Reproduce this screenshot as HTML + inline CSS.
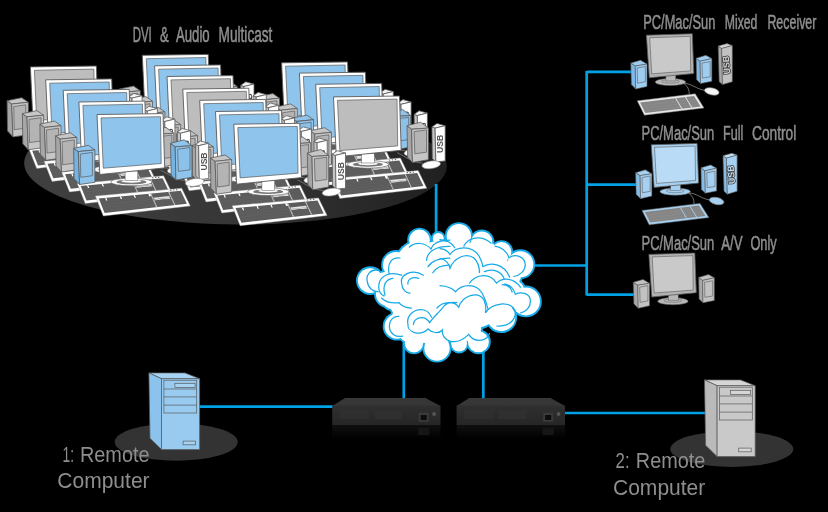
<!DOCTYPE html>
<html><head><meta charset="utf-8"><title>Diagram</title>
<style>html,body{margin:0;padding:0;background:#000;}html,body{width:828px;height:512px;overflow:hidden;}svg{display:block;filter:blur(0.4px);}</style></head>
<body>
<svg width="828" height="512" viewBox="0 0 828 512" font-family="'Liberation Sans', sans-serif">
<defs>
<linearGradient id="rfront" x1="0" y1="0" x2="0" y2="1"><stop offset="0" stop-color="#2f2f2f"/><stop offset="1" stop-color="#262626"/></linearGradient>
<linearGradient id="rrefl" x1="0" y1="0" x2="0" y2="1"><stop offset="0" stop-color="#101010"/><stop offset="1" stop-color="#000"/></linearGradient>
<linearGradient id="bigell" x1="0" y1="0" x2="1" y2="0"><stop offset="0" stop-color="#404040"/><stop offset="0.5" stop-color="#363636"/><stop offset="1" stop-color="#202020"/></linearGradient>
</defs>
<rect width="828" height="512" fill="#000"/>
<ellipse cx="235.5" cy="164.6" rx="211.3" ry="59.9" fill="url(#bigell)" transform="rotate(0.43 235.5 164.6)"/>
<ellipse cx="176.2" cy="442" rx="61.5" ry="18.8" fill="#333"/>
<ellipse cx="731.8" cy="449" rx="61.5" ry="17.9" fill="#333"/>
<path d="M199,406.6 H333 M403.8,338 V399 M483.3,345 V399 M564,413 H705 M436.1,184 V236 M530,265.5 H587 M586.7,71 V295.5 M586.7,71.8 H632 M586.7,184.7 H637 M586.7,294.6 H634" fill="none" stroke="#00a2e5" stroke-width="2.7"/>
<circle cx="370.3" cy="280.6" r="14.3" fill="#18aae7"/>
<circle cx="396.1" cy="265" r="15.0" fill="#18aae7"/>
<circle cx="419.5" cy="240" r="12.3" fill="#18aae7"/>
<circle cx="438.3" cy="238.4" r="7.3" fill="#18aae7"/>
<circle cx="458.9" cy="236.3" r="14.1" fill="#18aae7"/>
<circle cx="481.8" cy="242.1" r="12.5" fill="#18aae7"/>
<circle cx="501.5" cy="251.9" r="11.7" fill="#18aae7"/>
<circle cx="520.4" cy="264.2" r="14.9" fill="#18aae7"/>
<circle cx="525.9" cy="301.4" r="15.9" fill="#18aae7"/>
<circle cx="508.3" cy="285.6" r="12.4" fill="#18aae7"/>
<circle cx="501.3" cy="317.2" r="15.9" fill="#18aae7"/>
<circle cx="478.4" cy="341.8" r="12.4" fill="#18aae7"/>
<circle cx="459.1" cy="343.6" r="9.8" fill="#18aae7"/>
<circle cx="437" cy="348" r="14.6" fill="#18aae7"/>
<circle cx="414" cy="343.3" r="11.0" fill="#18aae7"/>
<circle cx="396.9" cy="326.4" r="14.2" fill="#18aae7"/>
<circle cx="388" cy="294" r="14.0" fill="#18aae7"/>
<circle cx="440" cy="280" r="41.0" fill="#18aae7"/>
<circle cx="470" cy="290" r="41.0" fill="#18aae7"/>
<circle cx="430" cy="310" r="31.0" fill="#18aae7"/>
<circle cx="480" cy="270" r="31.0" fill="#18aae7"/>
<circle cx="420" cy="265" r="26.0" fill="#18aae7"/>
<circle cx="500" cy="290" r="23.0" fill="#18aae7"/>
<circle cx="410" cy="300" r="23.0" fill="#18aae7"/>
<circle cx="455" cy="315" r="29.0" fill="#18aae7"/>
<circle cx="405" cy="318" r="15.0" fill="#18aae7"/>
<circle cx="425" cy="330" r="15.0" fill="#18aae7"/>
<circle cx="468" cy="328" r="15.0" fill="#18aae7"/>
<circle cx="385" cy="282" r="12.0" fill="#18aae7"/>
<circle cx="510" cy="275" r="13.0" fill="#18aae7"/>
<circle cx="515" cy="290" r="11.0" fill="#18aae7"/>
<circle cx="396" cy="281" r="10.0" fill="#18aae7"/>
<circle cx="392" cy="300" r="11.0" fill="#18aae7"/>
<circle cx="407" cy="335" r="8.5" fill="#18aae7"/>
<circle cx="370.3" cy="280.6" r="12.4" fill="#fff"/>
<circle cx="396.1" cy="265" r="13.1" fill="#fff"/>
<circle cx="419.5" cy="240" r="10.4" fill="#fff"/>
<circle cx="438.3" cy="238.4" r="5.4" fill="#fff"/>
<circle cx="458.9" cy="236.3" r="12.2" fill="#fff"/>
<circle cx="481.8" cy="242.1" r="10.6" fill="#fff"/>
<circle cx="501.5" cy="251.9" r="9.8" fill="#fff"/>
<circle cx="520.4" cy="264.2" r="13.0" fill="#fff"/>
<circle cx="525.9" cy="301.4" r="14.0" fill="#fff"/>
<circle cx="508.3" cy="285.6" r="10.5" fill="#fff"/>
<circle cx="501.3" cy="317.2" r="14.0" fill="#fff"/>
<circle cx="478.4" cy="341.8" r="10.5" fill="#fff"/>
<circle cx="459.1" cy="343.6" r="7.9" fill="#fff"/>
<circle cx="437" cy="348" r="12.7" fill="#fff"/>
<circle cx="414" cy="343.3" r="9.1" fill="#fff"/>
<circle cx="396.9" cy="326.4" r="12.3" fill="#fff"/>
<circle cx="388" cy="294" r="12.1" fill="#fff"/>
<circle cx="440" cy="280" r="39.1" fill="#fff"/>
<circle cx="470" cy="290" r="39.1" fill="#fff"/>
<circle cx="430" cy="310" r="29.1" fill="#fff"/>
<circle cx="480" cy="270" r="29.1" fill="#fff"/>
<circle cx="420" cy="265" r="24.1" fill="#fff"/>
<circle cx="500" cy="290" r="21.1" fill="#fff"/>
<circle cx="410" cy="300" r="21.1" fill="#fff"/>
<circle cx="455" cy="315" r="27.1" fill="#fff"/>
<circle cx="405" cy="318" r="13.1" fill="#fff"/>
<circle cx="425" cy="330" r="13.1" fill="#fff"/>
<circle cx="468" cy="328" r="13.1" fill="#fff"/>
<circle cx="385" cy="282" r="10.1" fill="#fff"/>
<circle cx="510" cy="275" r="11.1" fill="#fff"/>
<circle cx="515" cy="290" r="9.1" fill="#fff"/>
<circle cx="396" cy="281" r="8.1" fill="#fff"/>
<circle cx="392" cy="300" r="9.1" fill="#fff"/>
<circle cx="407" cy="335" r="6.6" fill="#fff"/>
<path d="M378.9,270.5 C370,268 366,276 367.2,281 C368,288 373,292 378.1,291.6 M400,258 C392,257 387,263 389,273 M401.6,275.2 C390,271 380,276 379,284 C378,290 380,294 384,296 M393,278.3 C386,279 382,285 385,295 M423.4,275.2 C412,268 400,275 401.6,283 C402,290 406,293 410,293 M418.8,278.3 C412,276 407,280 408,284 M409.4,247 C415,242 425,242 431,249 C433,243 440,240 450,240 M426.6,260.3 C427,251 437,246 450,246.3 M428,266.6 C432,260 440,258 450,258 M432.8,272.8 C436,267 443,265 450,265 M440,239.6 C446,240 452,243 454.8,247.8 M463.8,246.2 C468,238 480,234 491,243 M440,248.6 C445,249 448,251 450,254.5 C456,246 472,245 479,256 C481,260 482.5,263 482.7,266 M440,258.5 C445,259 449,263 450,268.3 C454,258 466,252 474,258 C478,262 479.5,267 479.4,272.4 M482.7,266.7 C490,262 504,263 509.7,277.3 M484.3,271.6 C492,268 501,271 504,278.2 M495,246.2 C501,247 507,251 508.9,257.7 C516,253 525,257 525.3,265 C525,271 520,275.5 513.8,276.5 M469.5,283.1 C476,274 490,272 496.6,283.1 C503,277 514,278 520.4,287.2 M502.3,284.7 C507,285 511,288 512.2,292 M440,285.6 C446,286 452,288 455.6,291.7 C462,284 476,283 482,293 C485,298 487,304 488.1,309.3 M437,308 C443,301 455,301 458.7,307.2 C462,296 478,290 484,300 C486,305 486,310 485.5,312.8 C492,303 510,300 515.3,311 C516,318 511,327 497,326 M515.3,294.3 C522,291 530,294 530.3,300 C531,307 526,312 520.6,312.8 M504.8,283.8 C510,285 514,289 515.3,294.3 M398.9,316.3 C391,316 388,324 390,330 C392,335 397,337 402.5,336.2 M408,324.4 C406,316 414,308 424,310 C428,311 430,314 431.5,317.2 M413.4,324.4 C414,318 424,314 429.7,322.6 C434,316 440,312 444,306 C447,303 452,302 457,302.7 M408,324.4 C407,332 420,337 428,329 C432,333 439,334 442.4,330 C441,340 455,348 468.7,334.4 C473,342 486,343 489.5,333.5 M381.7,298.2 C388,304 396,303 399,302.7 C402,307 408,308 411.6,308.1" fill="none" stroke="#18aae7" stroke-width="1.25" stroke-linecap="round"/>
<polygon points="344.6,398.3 426,398.3 440.5,405.9 332.2,405.9" fill="#363636"/>
<line x1="344.6" y1="398.7" x2="426" y2="398.7" stroke="#444" stroke-width="0.8"/>
<rect x="332.2" y="405.6" width="108.30000000000001" height="19.4" fill="url(#rfront)"/>
<rect x="339.2" y="409" width="30" height="10" fill="#313131" opacity="0.7"/>
<rect x="374.2" y="410.5" width="28" height="8.5" fill="#323232" opacity="0.7"/>
<rect x="332.2" y="425" width="108.30000000000001" height="14" fill="url(#rrefl)"/>
<rect x="418.7" y="412.8" width="10" height="9" fill="#3a3a3a"/>
<rect x="420.7" y="415" width="6" height="5" fill="#0c0c0c"/>
<rect x="418.2" y="428" width="11" height="7" fill="#161616"/>
<circle cx="434.1" cy="414" r="1.9" fill="#555"/>
<polygon points="468.8,398.3 551,398.3 565,405.9 456.6,405.9" fill="#363636"/>
<line x1="468.8" y1="398.7" x2="551" y2="398.7" stroke="#444" stroke-width="0.8"/>
<rect x="456.6" y="405.6" width="108.39999999999998" height="19.4" fill="url(#rfront)"/>
<rect x="463.6" y="409" width="30" height="10" fill="#313131" opacity="0.7"/>
<rect x="498.6" y="410.5" width="28" height="8.5" fill="#323232" opacity="0.7"/>
<rect x="456.6" y="425" width="108.39999999999998" height="14" fill="url(#rrefl)"/>
<rect x="543.2" y="412.8" width="10" height="9" fill="#3a3a3a"/>
<rect x="545.2" y="415" width="6" height="5" fill="#0c0c0c"/>
<rect x="542.7" y="428" width="11" height="7" fill="#161616"/>
<circle cx="558.6" cy="414" r="1.9" fill="#555"/>
<polygon points="148.9,372.9 185.0,372.9 199.6,378.7 161.5,378.7" fill="#a6d3f3" stroke="#5a5a5a" stroke-width="0.7" stroke-linejoin="round" />
<polygon points="148.9,372.9 161.5,378.7 161.5,449.6 150.0,438.3" fill="#8cc3ec" stroke="#5a5a5a" stroke-width="0.7" stroke-linejoin="round" />
<polygon points="161.5,378.7 199.6,378.7 199.6,449.6 161.5,449.6" fill="#99cbf0" stroke="#5a5a5a" stroke-width="0.7" stroke-linejoin="round" />
<rect x="163.9" y="380.2" width="32.8" height="32.8" fill="none" stroke="#5a5a5a" stroke-width="0.7"/>
<line x1="163.9" y1="389.0" x2="196.7" y2="389.0" stroke="#5a5a5a" stroke-width="0.7"/>
<line x1="163.9" y1="396.9" x2="196.7" y2="396.9" stroke="#5a5a5a" stroke-width="0.7"/>
<line x1="163.9" y1="405.1" x2="196.7" y2="405.1" stroke="#5a5a5a" stroke-width="0.7"/>
<rect x="174.9" y="383.3" width="20.2" height="4.1" fill="#a6d3f3" stroke="#5a5a5a" stroke-width="0.7"/>
<rect x="183.1" y="441.1" width="12.5" height="3.7" fill="#a6d3f3" stroke="#5a5a5a" stroke-width="0.7"/>
<polygon points="704.5,379.9 740.6,379.9 755.2,385.7 717.1,385.7" fill="#d6d6d6" stroke="#5a5a5a" stroke-width="0.7" stroke-linejoin="round" />
<polygon points="704.5,379.9 717.1,385.7 717.1,456.6 705.6,445.3" fill="#bababa" stroke="#5a5a5a" stroke-width="0.7" stroke-linejoin="round" />
<polygon points="717.1,385.7 755.2,385.7 755.2,456.6 717.1,456.6" fill="#c9c9c9" stroke="#5a5a5a" stroke-width="0.7" stroke-linejoin="round" />
<rect x="719.5" y="387.2" width="32.8" height="32.8" fill="none" stroke="#5a5a5a" stroke-width="0.7"/>
<line x1="719.5" y1="396.0" x2="752.3" y2="396.0" stroke="#5a5a5a" stroke-width="0.7"/>
<line x1="719.5" y1="403.9" x2="752.3" y2="403.9" stroke="#5a5a5a" stroke-width="0.7"/>
<line x1="719.5" y1="412.1" x2="752.3" y2="412.1" stroke="#5a5a5a" stroke-width="0.7"/>
<rect x="730.5" y="390.3" width="20.2" height="4.1" fill="#d6d6d6" stroke="#5a5a5a" stroke-width="0.7"/>
<rect x="738.7" y="448.1" width="12.5" height="3.7" fill="#d6d6d6" stroke="#5a5a5a" stroke-width="0.7"/>
<text x="132.7" y="42.1" font-size="21.5" textLength="19.1" lengthAdjust="spacingAndGlyphs" text-anchor="start" fill="#8f8f8f" stroke="#8f8f8f" stroke-width="0.55" >DVI</text>
<text x="160" y="42.1" font-size="21.5" textLength="8.7" lengthAdjust="spacingAndGlyphs" text-anchor="start" fill="#8f8f8f" stroke="#8f8f8f" stroke-width="0.55" >&amp;</text>
<text x="175.9" y="42.1" font-size="21.5" textLength="33.8" lengthAdjust="spacingAndGlyphs" text-anchor="start" fill="#8f8f8f" stroke="#8f8f8f" stroke-width="0.55" >Audio</text>
<text x="218.6" y="42.1" font-size="21.5" textLength="53.8" lengthAdjust="spacingAndGlyphs" text-anchor="start" fill="#8f8f8f" stroke="#8f8f8f" stroke-width="0.55" >Multicast</text>
<text x="643.2" y="28.8" font-size="20.5" textLength="72.2" lengthAdjust="spacingAndGlyphs" text-anchor="start" fill="#8f8f8f" stroke="#8f8f8f" stroke-width="0.55" >PC/Mac/Sun</text>
<text x="724.7" y="28.8" font-size="20.5" textLength="32.7" lengthAdjust="spacingAndGlyphs" text-anchor="start" fill="#8f8f8f" stroke="#8f8f8f" stroke-width="0.55" >Mixed</text>
<text x="767.4" y="28.8" font-size="20.5" textLength="49.0" lengthAdjust="spacingAndGlyphs" text-anchor="start" fill="#8f8f8f" stroke="#8f8f8f" stroke-width="0.55" >Receiver</text>
<text x="641.5" y="139.5" font-size="20.5" textLength="72.8" lengthAdjust="spacingAndGlyphs" text-anchor="start" fill="#8f8f8f" stroke="#8f8f8f" stroke-width="0.55" >PC/Mac/Sun</text>
<text x="723.1" y="139.5" font-size="20.5" textLength="20.3" lengthAdjust="spacingAndGlyphs" text-anchor="start" fill="#8f8f8f" stroke="#8f8f8f" stroke-width="0.55" >Full</text>
<text x="752" y="139.5" font-size="20.5" textLength="44.3" lengthAdjust="spacingAndGlyphs" text-anchor="start" fill="#8f8f8f" stroke="#8f8f8f" stroke-width="0.55" >Control</text>
<text x="641.5" y="249.5" font-size="20.5" textLength="72.8" lengthAdjust="spacingAndGlyphs" text-anchor="start" fill="#8f8f8f" stroke="#8f8f8f" stroke-width="0.55" >PC/Mac/Sun</text>
<text x="721.2" y="249.5" font-size="20.5" textLength="21.5" lengthAdjust="spacingAndGlyphs" text-anchor="start" fill="#8f8f8f" stroke="#8f8f8f" stroke-width="0.55" >A/V</text>
<text x="750.4" y="249.5" font-size="20.5" textLength="26.3" lengthAdjust="spacingAndGlyphs" text-anchor="start" fill="#8f8f8f" stroke="#8f8f8f" stroke-width="0.55" >Only</text>
<text x="62.6" y="461.9" font-size="22" textLength="11.5" lengthAdjust="spacingAndGlyphs" text-anchor="start" fill="#8e8e8e" stroke="#8e8e8e" stroke-width="0" >1:</text>
<text x="79.9" y="461.9" font-size="22" textLength="69.7" lengthAdjust="spacingAndGlyphs" text-anchor="start" fill="#8e8e8e" stroke="#8e8e8e" stroke-width="0" >Remote</text>
<text x="57.3" y="488.1" font-size="22" textLength="92.3" lengthAdjust="spacingAndGlyphs" text-anchor="start" fill="#8e8e8e" stroke="#8e8e8e" stroke-width="0" >Computer</text>
<text x="615.6" y="467.6" font-size="22" textLength="14" lengthAdjust="spacingAndGlyphs" text-anchor="start" fill="#8e8e8e" stroke="#8e8e8e" stroke-width="0" >2:</text>
<text x="635.8" y="467.6" font-size="22" textLength="69.5" lengthAdjust="spacingAndGlyphs" text-anchor="start" fill="#8e8e8e" stroke="#8e8e8e" stroke-width="0" >Remote</text>
<text x="613" y="494.8" font-size="22" textLength="92.3" lengthAdjust="spacingAndGlyphs" text-anchor="start" fill="#8e8e8e" stroke="#8e8e8e" stroke-width="0" >Computer</text>
<g><polygon points="140.6,136.8 227.0,129.0 235.6,146.7 148.6,156.9" fill="#ffffff" stroke="#999" stroke-width="0.4" stroke-linejoin="round" />
<polygon points="144.1,139.2 226.0,131.5 232.2,144.5 149.9,153.8" fill="#5c5c5c"/>
<polygon points="150.3,138.6 151.6,138.5 152.7,141.3 151.4,141.4" fill="#fff"/>
<polygon points="165.0,137.2 166.3,137.1 167.4,139.8 166.1,139.9" fill="#fff"/>
<polygon points="178.8,135.9 180.1,135.8 181.3,138.5 180.0,138.6" fill="#fff"/>
<polygon points="193.5,134.5 196.1,134.3 197.3,136.9 194.7,137.2" fill="#fff"/>
<polygon points="198.9,138.5 214.5,136.9 215.7,139.5 200.1,141.1" fill="#e8e8e8"/>
<polygon points="205.3,140.6 210.5,140.0 211.5,142.2 206.3,142.8" fill="#5c5c5c"/>
<polygon points="195.3,134.4 196.6,134.3 202.7,147.8 201.4,148.0" fill="#bbb"/>
<polygon points="213.4,132.7 214.5,132.6 220.7,145.8 219.6,145.9" fill="#ccc"/>
<polygon points="145.6,142.6 227.0,134.6 227.1,134.8 145.7,142.9" fill="#676767"/>
<polygon points="146.7,145.4 228.2,137.1 228.3,137.3 146.8,145.7" fill="#676767"/>
<polygon points="147.8,148.2 229.4,139.5 229.5,139.8 148.0,148.5" fill="#676767"/>
<polygon points="149.0,151.0 230.6,142.0 230.7,142.3 149.1,151.3" fill="#676767"/>
<polygon points="215.2,130.6 216.5,130.5 217.0,131.6 215.7,131.7" fill="#666"/>
<polygon points="218.2,130.4 219.5,130.2 220.0,131.3 218.7,131.4" fill="#666"/>
<polygon points="221.2,130.1 222.5,130.0 223.0,131.0 221.7,131.2" fill="#666"/>
<ellipse cx="176.7" cy="122.8" rx="20.6" ry="3.8" fill="#fff" stroke="#5a5a5a" stroke-width="0.6"/>
<ellipse cx="176.7" cy="122.8" rx="15" ry="2.3" fill="#777"/>
<ellipse cx="176.7" cy="122.1" rx="10" ry="1.5" fill="#fff"/>
<rect x="170.4" y="111.8" width="12.7" height="9.6" fill="#fff" stroke="#5a5a5a" stroke-width="0.5"/>
<path d="M231.8,121.6 C220.3,120.8 214.3,114.8 206.0,111.1" fill="none" stroke="#888" stroke-width="0.7"/>
<polygon points="119.0,89.1 123.6,92.4 124.9,125.3 119.4,119.3" fill="#a6a6a6" stroke="#5a5a5a" stroke-width="0.8" stroke-linejoin="round" />
<polygon points="119.0,89.1 133.6,86.1 140.2,90.7 123.6,92.4" fill="#c6c6c6" stroke="#5a5a5a" stroke-width="0.8" stroke-linejoin="round" />
<polygon points="123.6,92.4 140.2,90.7 140.2,123.1 124.9,125.3" fill="#c6c6c6" stroke="#5a5a5a" stroke-width="0.8" stroke-linejoin="round" />
<polygon points="125.6,94.9 137.7,93.2 137.7,116.5 126.1,118.1" fill="#b4b4b4" stroke="#5a5a5a" stroke-width="0.7" stroke-linejoin="round" />
<polygon points="142.3,55.3 208.3,54.4 210.0,108.7 145.1,115.3" fill="#ffffff" stroke="#5a5a5a" stroke-width="0.9" stroke-linejoin="round" />
<polygon points="146.3,58.7 205.8,57.5 206.5,104.3 148.6,109.0" fill="#8fc5ec" stroke="#5a5a5a" stroke-width="0.7" stroke-linejoin="round" />
<polygon points="215.8,84.1 220.5,87.6 221.2,120.9 216.5,115.7" fill="#a6a6a6" stroke="#5a5a5a" stroke-width="0.8" stroke-linejoin="round" />
<polygon points="215.8,84.1 229.4,80.6 237.2,86.5 220.5,87.6" fill="#c6c6c6" stroke="#5a5a5a" stroke-width="0.8" stroke-linejoin="round" />
<polygon points="220.5,87.6 237.2,86.5 237.2,118.1 221.2,120.9" fill="#c6c6c6" stroke="#5a5a5a" stroke-width="0.8" stroke-linejoin="round" />
<polygon points="222.9,90.0 235.3,88.3 235.3,110.6 223.6,112.2" fill="#b4b4b4" stroke="#5a5a5a" stroke-width="0.7" stroke-linejoin="round" />
<polygon points="240.7,85.3 243.9,86.5 244.6,120.4 241.1,116.9" fill="#c4c4c4" stroke="#5a5a5a" stroke-width="0.8" stroke-linejoin="round" />
<polygon points="240.7,85.3 245.8,81.8 254.0,84.1 243.9,86.5" fill="#f4f4f4" stroke="#5a5a5a" stroke-width="0.8" stroke-linejoin="round" />
<polygon points="243.9,86.5 254.0,84.1 254.0,119.3 244.6,120.4" fill="#fff" stroke="#5a5a5a" stroke-width="0.8" stroke-linejoin="round" />
<text transform="translate(249.2,102.3) rotate(-90)" text-anchor="middle" font-size="8.6" font-weight="bold" fill="#555" dy="3">USB</text>
<ellipse cx="240.0" cy="123.2" rx="9.4" ry="3.8" fill="#fff" stroke="#888" stroke-width="0.6" transform="rotate(-8 240.0 123.2)"/></g>
<g><polygon points="279.9,144.3 366.3,136.5 374.9,154.2 287.9,164.4" fill="#ffffff" stroke="#999" stroke-width="0.4" stroke-linejoin="round" />
<polygon points="283.4,146.7 365.3,139.0 371.5,152.0 289.2,161.3" fill="#5c5c5c"/>
<polygon points="289.6,146.1 290.9,146.0 292.0,148.8 290.7,148.9" fill="#fff"/>
<polygon points="304.3,144.7 305.6,144.6 306.7,147.3 305.4,147.4" fill="#fff"/>
<polygon points="318.1,143.4 319.4,143.3 320.6,146.0 319.3,146.1" fill="#fff"/>
<polygon points="332.8,142.0 335.4,141.8 336.6,144.4 334.0,144.7" fill="#fff"/>
<polygon points="338.2,146.0 353.8,144.4 355.0,147.0 339.4,148.6" fill="#e8e8e8"/>
<polygon points="344.6,148.1 349.8,147.5 350.8,149.7 345.6,150.3" fill="#5c5c5c"/>
<polygon points="334.6,141.9 335.9,141.8 342.0,155.3 340.7,155.5" fill="#bbb"/>
<polygon points="352.7,140.2 353.8,140.1 360.0,153.3 358.9,153.4" fill="#ccc"/>
<polygon points="284.9,150.1 366.3,142.1 366.4,142.3 285.0,150.4" fill="#676767"/>
<polygon points="286.0,152.9 367.5,144.6 367.6,144.8 286.1,153.2" fill="#676767"/>
<polygon points="287.1,155.7 368.7,147.0 368.8,147.3 287.3,156.0" fill="#676767"/>
<polygon points="288.3,158.5 369.9,149.5 370.0,149.8 288.4,158.8" fill="#676767"/>
<polygon points="354.5,138.1 355.8,138.0 356.3,139.1 355.0,139.2" fill="#666"/>
<polygon points="357.5,137.9 358.8,137.7 359.3,138.8 358.0,138.9" fill="#666"/>
<polygon points="360.5,137.6 361.8,137.5 362.3,138.5 361.0,138.7" fill="#666"/>
<ellipse cx="316.0" cy="130.3" rx="20.6" ry="3.8" fill="#fff" stroke="#5a5a5a" stroke-width="0.6"/>
<ellipse cx="316.0" cy="130.3" rx="15" ry="2.3" fill="#777"/>
<ellipse cx="316.0" cy="129.6" rx="10" ry="1.5" fill="#fff"/>
<rect x="309.7" y="119.3" width="12.7" height="9.6" fill="#fff" stroke="#5a5a5a" stroke-width="0.5"/>
<path d="M371.1,129.1 C359.6,128.3 353.6,122.3 345.3,118.6" fill="none" stroke="#888" stroke-width="0.7"/>
<polygon points="258.3,96.6 262.9,99.9 264.2,132.8 258.7,126.8" fill="#a6a6a6" stroke="#5a5a5a" stroke-width="0.8" stroke-linejoin="round" />
<polygon points="258.3,96.6 272.9,93.6 279.5,98.2 262.9,99.9" fill="#c6c6c6" stroke="#5a5a5a" stroke-width="0.8" stroke-linejoin="round" />
<polygon points="262.9,99.9 279.5,98.2 279.5,130.6 264.2,132.8" fill="#c6c6c6" stroke="#5a5a5a" stroke-width="0.8" stroke-linejoin="round" />
<polygon points="264.9,102.4 277.0,100.7 277.0,124.0 265.4,125.6" fill="#b4b4b4" stroke="#5a5a5a" stroke-width="0.7" stroke-linejoin="round" />
<polygon points="281.6,62.8 347.6,61.9 349.3,116.2 284.4,122.8" fill="#ffffff" stroke="#5a5a5a" stroke-width="0.9" stroke-linejoin="round" />
<polygon points="285.6,66.2 345.1,65.0 345.8,111.8 287.9,116.5" fill="#8fc5ec" stroke="#5a5a5a" stroke-width="0.7" stroke-linejoin="round" />
<polygon points="355.1,91.6 359.8,95.1 360.5,128.4 355.8,123.2" fill="#a6a6a6" stroke="#5a5a5a" stroke-width="0.8" stroke-linejoin="round" />
<polygon points="355.1,91.6 368.7,88.1 376.5,94.0 359.8,95.1" fill="#c6c6c6" stroke="#5a5a5a" stroke-width="0.8" stroke-linejoin="round" />
<polygon points="359.8,95.1 376.5,94.0 376.5,125.6 360.5,128.4" fill="#c6c6c6" stroke="#5a5a5a" stroke-width="0.8" stroke-linejoin="round" />
<polygon points="362.2,97.5 374.6,95.8 374.6,118.1 362.9,119.7" fill="#b4b4b4" stroke="#5a5a5a" stroke-width="0.7" stroke-linejoin="round" />
<polygon points="380.0,92.8 383.2,94.0 383.9,127.9 380.4,124.4" fill="#c4c4c4" stroke="#5a5a5a" stroke-width="0.8" stroke-linejoin="round" />
<polygon points="380.0,92.8 385.1,89.3 393.3,91.6 383.2,94.0" fill="#f4f4f4" stroke="#5a5a5a" stroke-width="0.8" stroke-linejoin="round" />
<polygon points="383.2,94.0 393.3,91.6 393.3,126.8 383.9,127.9" fill="#fff" stroke="#5a5a5a" stroke-width="0.8" stroke-linejoin="round" />
<text transform="translate(388.5,109.8) rotate(-90)" text-anchor="middle" font-size="8.6" font-weight="bold" fill="#555" dy="3">USB</text>
<ellipse cx="379.3" cy="130.7" rx="9.4" ry="3.8" fill="#fff" stroke="#888" stroke-width="0.6" transform="rotate(-8 379.3 130.7)"/></g>
<g><polygon points="152.9,147.3 239.3,139.5 247.9,157.2 160.9,167.4" fill="#ffffff" stroke="#999" stroke-width="0.4" stroke-linejoin="round" />
<polygon points="156.4,149.7 238.3,142.0 244.5,155.0 162.2,164.3" fill="#5c5c5c"/>
<polygon points="162.6,149.1 163.9,149.0 165.0,151.8 163.7,151.9" fill="#fff"/>
<polygon points="177.3,147.7 178.6,147.6 179.7,150.3 178.4,150.4" fill="#fff"/>
<polygon points="191.1,146.4 192.4,146.3 193.6,149.0 192.3,149.1" fill="#fff"/>
<polygon points="205.8,145.0 208.4,144.8 209.6,147.4 207.0,147.7" fill="#fff"/>
<polygon points="211.2,149.0 226.8,147.4 228.0,150.0 212.4,151.6" fill="#e8e8e8"/>
<polygon points="217.6,151.1 222.8,150.5 223.8,152.7 218.6,153.3" fill="#5c5c5c"/>
<polygon points="207.6,144.9 208.9,144.8 215.0,158.3 213.7,158.5" fill="#bbb"/>
<polygon points="225.7,143.2 226.8,143.1 233.0,156.3 231.9,156.4" fill="#ccc"/>
<polygon points="157.9,153.1 239.3,145.1 239.4,145.3 158.0,153.4" fill="#676767"/>
<polygon points="159.0,155.9 240.5,147.6 240.6,147.8 159.1,156.2" fill="#676767"/>
<polygon points="160.1,158.7 241.7,150.0 241.8,150.3 160.3,159.0" fill="#676767"/>
<polygon points="161.3,161.5 242.9,152.5 243.0,152.8 161.4,161.8" fill="#676767"/>
<polygon points="227.5,141.1 228.8,141.0 229.3,142.1 228.0,142.2" fill="#666"/>
<polygon points="230.5,140.9 231.8,140.7 232.3,141.8 231.0,141.9" fill="#666"/>
<polygon points="233.5,140.6 234.8,140.5 235.3,141.5 234.0,141.7" fill="#666"/>
<ellipse cx="189.0" cy="133.3" rx="20.6" ry="3.8" fill="#fff" stroke="#5a5a5a" stroke-width="0.6"/>
<ellipse cx="189.0" cy="133.3" rx="15" ry="2.3" fill="#777"/>
<ellipse cx="189.0" cy="132.6" rx="10" ry="1.5" fill="#fff"/>
<rect x="182.7" y="122.3" width="12.7" height="9.6" fill="#fff" stroke="#5a5a5a" stroke-width="0.5"/>
<path d="M244.1,132.1 C232.6,131.3 226.6,125.3 218.3,121.6" fill="none" stroke="#888" stroke-width="0.7"/>
<polygon points="131.3,99.6 135.9,102.9 137.2,135.8 131.7,129.8" fill="#a6a6a6" stroke="#5a5a5a" stroke-width="0.8" stroke-linejoin="round" />
<polygon points="131.3,99.6 145.9,96.6 152.5,101.2 135.9,102.9" fill="#c6c6c6" stroke="#5a5a5a" stroke-width="0.8" stroke-linejoin="round" />
<polygon points="135.9,102.9 152.5,101.2 152.5,133.6 137.2,135.8" fill="#c6c6c6" stroke="#5a5a5a" stroke-width="0.8" stroke-linejoin="round" />
<polygon points="137.9,105.4 150.0,103.7 150.0,127.0 138.4,128.6" fill="#b4b4b4" stroke="#5a5a5a" stroke-width="0.7" stroke-linejoin="round" />
<polygon points="154.6,65.8 220.6,64.9 222.3,119.2 157.4,125.8" fill="#ffffff" stroke="#5a5a5a" stroke-width="0.9" stroke-linejoin="round" />
<polygon points="158.6,69.2 218.1,68.0 218.8,114.8 160.9,119.5" fill="#8fc5ec" stroke="#5a5a5a" stroke-width="0.7" stroke-linejoin="round" />
<polygon points="228.1,94.6 232.8,98.1 233.5,131.4 228.8,126.2" fill="#a6a6a6" stroke="#5a5a5a" stroke-width="0.8" stroke-linejoin="round" />
<polygon points="228.1,94.6 241.7,91.1 249.5,97.0 232.8,98.1" fill="#c6c6c6" stroke="#5a5a5a" stroke-width="0.8" stroke-linejoin="round" />
<polygon points="232.8,98.1 249.5,97.0 249.5,128.6 233.5,131.4" fill="#c6c6c6" stroke="#5a5a5a" stroke-width="0.8" stroke-linejoin="round" />
<polygon points="235.2,100.5 247.6,98.8 247.6,121.1 235.9,122.7" fill="#b4b4b4" stroke="#5a5a5a" stroke-width="0.7" stroke-linejoin="round" />
<polygon points="253.0,95.8 256.2,97.0 256.9,130.9 253.4,127.4" fill="#c4c4c4" stroke="#5a5a5a" stroke-width="0.8" stroke-linejoin="round" />
<polygon points="253.0,95.8 258.1,92.3 266.3,94.6 256.2,97.0" fill="#f4f4f4" stroke="#5a5a5a" stroke-width="0.8" stroke-linejoin="round" />
<polygon points="256.2,97.0 266.3,94.6 266.3,129.8 256.9,130.9" fill="#fff" stroke="#5a5a5a" stroke-width="0.8" stroke-linejoin="round" />
<text transform="translate(261.5,112.8) rotate(-90)" text-anchor="middle" font-size="8.6" font-weight="bold" fill="#555" dy="3">USB</text>
<ellipse cx="252.3" cy="133.7" rx="9.4" ry="3.8" fill="#fff" stroke="#888" stroke-width="0.6" transform="rotate(-8 252.3 133.7)"/></g>
<g><polygon points="28.7,148.4 115.1,140.6 123.7,158.3 36.7,168.5" fill="#ffffff" stroke="#999" stroke-width="0.4" stroke-linejoin="round" />
<polygon points="32.2,150.8 114.1,143.1 120.3,156.1 38.0,165.4" fill="#5c5c5c"/>
<polygon points="38.4,150.2 39.7,150.1 40.8,152.9 39.5,153.0" fill="#fff"/>
<polygon points="53.1,148.8 54.4,148.7 55.5,151.4 54.2,151.5" fill="#fff"/>
<polygon points="66.9,147.5 68.2,147.4 69.4,150.1 68.1,150.2" fill="#fff"/>
<polygon points="81.6,146.1 84.2,145.9 85.4,148.5 82.8,148.8" fill="#fff"/>
<polygon points="87.0,150.1 102.6,148.5 103.8,151.1 88.2,152.7" fill="#e8e8e8"/>
<polygon points="93.4,152.2 98.6,151.6 99.6,153.8 94.4,154.4" fill="#5c5c5c"/>
<polygon points="83.4,146.0 84.7,145.9 90.8,159.4 89.5,159.6" fill="#bbb"/>
<polygon points="101.5,144.3 102.6,144.2 108.8,157.4 107.7,157.5" fill="#ccc"/>
<polygon points="33.7,154.2 115.1,146.2 115.2,146.4 33.8,154.5" fill="#676767"/>
<polygon points="34.8,157.0 116.3,148.7 116.4,148.9 34.9,157.3" fill="#676767"/>
<polygon points="35.9,159.8 117.5,151.1 117.6,151.4 36.1,160.1" fill="#676767"/>
<polygon points="37.1,162.6 118.7,153.6 118.8,153.9 37.2,162.9" fill="#676767"/>
<polygon points="103.3,142.2 104.6,142.1 105.1,143.2 103.8,143.3" fill="#666"/>
<polygon points="106.3,142.0 107.6,141.8 108.1,142.9 106.8,143.0" fill="#666"/>
<polygon points="109.3,141.7 110.6,141.6 111.1,142.6 109.8,142.8" fill="#666"/>
<ellipse cx="64.8" cy="134.4" rx="20.6" ry="3.8" fill="#fff" stroke="#5a5a5a" stroke-width="0.6"/>
<ellipse cx="64.8" cy="134.4" rx="15" ry="2.3" fill="#777"/>
<ellipse cx="64.8" cy="133.7" rx="10" ry="1.5" fill="#fff"/>
<rect x="58.5" y="123.4" width="12.7" height="9.6" fill="#fff" stroke="#5a5a5a" stroke-width="0.5"/>
<path d="M119.9,133.2 C108.4,132.4 102.4,126.4 94.1,122.7" fill="none" stroke="#888" stroke-width="0.7"/>
<polygon points="7.1,100.7 11.7,104.0 13.0,136.9 7.5,130.9" fill="#a6a6a6" stroke="#5a5a5a" stroke-width="0.8" stroke-linejoin="round" />
<polygon points="7.1,100.7 21.7,97.7 28.3,102.3 11.7,104.0" fill="#c6c6c6" stroke="#5a5a5a" stroke-width="0.8" stroke-linejoin="round" />
<polygon points="11.7,104.0 28.3,102.3 28.3,134.7 13.0,136.9" fill="#c6c6c6" stroke="#5a5a5a" stroke-width="0.8" stroke-linejoin="round" />
<polygon points="13.7,106.5 25.8,104.8 25.8,128.1 14.2,129.7" fill="#b4b4b4" stroke="#5a5a5a" stroke-width="0.7" stroke-linejoin="round" />
<polygon points="30.4,66.9 96.4,66.0 98.1,120.3 33.2,126.9" fill="#ffffff" stroke="#5a5a5a" stroke-width="0.9" stroke-linejoin="round" />
<polygon points="34.4,70.3 93.9,69.1 94.6,115.9 36.7,120.6" fill="#bdbdbd" stroke="#5a5a5a" stroke-width="0.7" stroke-linejoin="round" />
<polygon points="103.9,95.7 108.6,99.2 109.3,132.5 104.6,127.3" fill="#a6a6a6" stroke="#5a5a5a" stroke-width="0.8" stroke-linejoin="round" />
<polygon points="103.9,95.7 117.5,92.2 125.3,98.1 108.6,99.2" fill="#c6c6c6" stroke="#5a5a5a" stroke-width="0.8" stroke-linejoin="round" />
<polygon points="108.6,99.2 125.3,98.1 125.3,129.7 109.3,132.5" fill="#c6c6c6" stroke="#5a5a5a" stroke-width="0.8" stroke-linejoin="round" />
<polygon points="111.0,101.6 123.4,99.9 123.4,122.2 111.7,123.8" fill="#b4b4b4" stroke="#5a5a5a" stroke-width="0.7" stroke-linejoin="round" />
<polygon points="128.8,96.9 132.0,98.1 132.7,132.0 129.2,128.5" fill="#c4c4c4" stroke="#5a5a5a" stroke-width="0.8" stroke-linejoin="round" />
<polygon points="128.8,96.9 133.9,93.4 142.1,95.7 132.0,98.1" fill="#f4f4f4" stroke="#5a5a5a" stroke-width="0.8" stroke-linejoin="round" />
<polygon points="132.0,98.1 142.1,95.7 142.1,130.9 132.7,132.0" fill="#fff" stroke="#5a5a5a" stroke-width="0.8" stroke-linejoin="round" />
<text transform="translate(137.3,113.9) rotate(-90)" text-anchor="middle" font-size="8.6" font-weight="bold" fill="#555" dy="3">USB</text>
<ellipse cx="128.1" cy="134.8" rx="9.4" ry="3.8" fill="#fff" stroke="#888" stroke-width="0.6" transform="rotate(-8 128.1 134.8)"/></g>
<g><polygon points="297.7,154.6 384.1,146.8 392.7,164.5 305.7,174.7" fill="#ffffff" stroke="#999" stroke-width="0.4" stroke-linejoin="round" />
<polygon points="301.2,157.0 383.1,149.3 389.3,162.3 307.0,171.6" fill="#5c5c5c"/>
<polygon points="307.4,156.4 308.7,156.3 309.8,159.1 308.5,159.2" fill="#fff"/>
<polygon points="322.1,155.0 323.4,154.9 324.5,157.6 323.2,157.7" fill="#fff"/>
<polygon points="335.9,153.7 337.2,153.6 338.4,156.3 337.1,156.4" fill="#fff"/>
<polygon points="350.6,152.3 353.2,152.1 354.4,154.7 351.8,155.0" fill="#fff"/>
<polygon points="356.0,156.3 371.6,154.7 372.8,157.3 357.2,158.9" fill="#e8e8e8"/>
<polygon points="362.4,158.3 367.6,157.8 368.6,160.0 363.4,160.6" fill="#5c5c5c"/>
<polygon points="352.4,152.2 353.7,152.1 359.8,165.6 358.5,165.8" fill="#bbb"/>
<polygon points="370.5,150.5 371.6,150.4 377.8,163.6 376.7,163.7" fill="#ccc"/>
<polygon points="302.7,160.4 384.1,152.4 384.2,152.6 302.8,160.7" fill="#676767"/>
<polygon points="303.8,163.2 385.3,154.9 385.4,155.1 303.9,163.5" fill="#676767"/>
<polygon points="304.9,166.0 386.5,157.3 386.6,157.6 305.1,166.3" fill="#676767"/>
<polygon points="306.1,168.8 387.7,159.8 387.8,160.1 306.2,169.1" fill="#676767"/>
<polygon points="372.3,148.4 373.6,148.3 374.1,149.4 372.8,149.5" fill="#666"/>
<polygon points="375.3,148.2 376.6,148.0 377.1,149.1 375.8,149.2" fill="#666"/>
<polygon points="378.3,147.9 379.6,147.8 380.1,148.8 378.8,149.0" fill="#666"/>
<ellipse cx="333.8" cy="140.6" rx="20.6" ry="3.8" fill="#fff" stroke="#5a5a5a" stroke-width="0.6"/>
<ellipse cx="333.8" cy="140.6" rx="15" ry="2.3" fill="#777"/>
<ellipse cx="333.8" cy="139.9" rx="10" ry="1.5" fill="#fff"/>
<rect x="327.5" y="129.6" width="12.7" height="9.6" fill="#fff" stroke="#5a5a5a" stroke-width="0.5"/>
<path d="M388.9,139.4 C377.4,138.6 371.4,132.6 363.1,128.9" fill="none" stroke="#888" stroke-width="0.7"/>
<polygon points="276.1,106.9 280.7,110.2 282.0,143.1 276.5,137.1" fill="#a6a6a6" stroke="#5a5a5a" stroke-width="0.8" stroke-linejoin="round" />
<polygon points="276.1,106.9 290.7,103.9 297.3,108.5 280.7,110.2" fill="#c6c6c6" stroke="#5a5a5a" stroke-width="0.8" stroke-linejoin="round" />
<polygon points="280.7,110.2 297.3,108.5 297.3,140.9 282.0,143.1" fill="#c6c6c6" stroke="#5a5a5a" stroke-width="0.8" stroke-linejoin="round" />
<polygon points="282.7,112.7 294.8,111.0 294.8,134.3 283.2,135.9" fill="#b4b4b4" stroke="#5a5a5a" stroke-width="0.7" stroke-linejoin="round" />
<polygon points="299.4,73.1 365.4,72.2 367.1,126.5 302.2,133.1" fill="#ffffff" stroke="#5a5a5a" stroke-width="0.9" stroke-linejoin="round" />
<polygon points="303.4,76.5 362.9,75.3 363.6,122.1 305.7,126.8" fill="#8fc5ec" stroke="#5a5a5a" stroke-width="0.7" stroke-linejoin="round" />
<polygon points="372.9,101.9 377.6,105.4 378.3,138.7 373.6,133.5" fill="#a6a6a6" stroke="#5a5a5a" stroke-width="0.8" stroke-linejoin="round" />
<polygon points="372.9,101.9 386.5,98.4 394.3,104.3 377.6,105.4" fill="#c6c6c6" stroke="#5a5a5a" stroke-width="0.8" stroke-linejoin="round" />
<polygon points="377.6,105.4 394.3,104.3 394.3,135.9 378.3,138.7" fill="#c6c6c6" stroke="#5a5a5a" stroke-width="0.8" stroke-linejoin="round" />
<polygon points="380.0,107.8 392.4,106.1 392.4,128.4 380.7,130.0" fill="#b4b4b4" stroke="#5a5a5a" stroke-width="0.7" stroke-linejoin="round" />
<polygon points="397.8,103.1 401.0,104.3 401.7,138.2 398.2,134.7" fill="#c4c4c4" stroke="#5a5a5a" stroke-width="0.8" stroke-linejoin="round" />
<polygon points="397.8,103.1 402.9,99.6 411.1,101.9 401.0,104.3" fill="#f4f4f4" stroke="#5a5a5a" stroke-width="0.8" stroke-linejoin="round" />
<polygon points="401.0,104.3 411.1,101.9 411.1,137.1 401.7,138.2" fill="#fff" stroke="#5a5a5a" stroke-width="0.8" stroke-linejoin="round" />
<text transform="translate(406.3,120.1) rotate(-90)" text-anchor="middle" font-size="8.6" font-weight="bold" fill="#555" dy="3">USB</text>
<ellipse cx="397.1" cy="141.0" rx="9.4" ry="3.8" fill="#fff" stroke="#888" stroke-width="0.6" transform="rotate(-8 397.1 141.0)"/></g>
<g><polygon points="165.3,158.0 251.7,150.2 260.3,167.9 173.3,178.1" fill="#ffffff" stroke="#999" stroke-width="0.4" stroke-linejoin="round" />
<polygon points="168.8,160.4 250.7,152.7 256.9,165.7 174.6,175.0" fill="#5c5c5c"/>
<polygon points="175.0,159.8 176.3,159.7 177.4,162.5 176.1,162.6" fill="#fff"/>
<polygon points="189.7,158.4 191.0,158.3 192.1,161.0 190.8,161.1" fill="#fff"/>
<polygon points="203.5,157.1 204.8,157.0 206.0,159.7 204.7,159.8" fill="#fff"/>
<polygon points="218.2,155.7 220.8,155.5 222.0,158.1 219.4,158.4" fill="#fff"/>
<polygon points="223.6,159.7 239.2,158.1 240.4,160.7 224.8,162.3" fill="#e8e8e8"/>
<polygon points="230.0,161.8 235.2,161.2 236.2,163.4 231.0,164.0" fill="#5c5c5c"/>
<polygon points="220.0,155.6 221.3,155.5 227.4,169.0 226.1,169.2" fill="#bbb"/>
<polygon points="238.1,153.9 239.2,153.8 245.4,167.0 244.3,167.1" fill="#ccc"/>
<polygon points="170.3,163.8 251.7,155.8 251.8,156.0 170.4,164.1" fill="#676767"/>
<polygon points="171.4,166.6 252.9,158.3 253.0,158.5 171.5,166.9" fill="#676767"/>
<polygon points="172.5,169.4 254.1,160.7 254.2,161.0 172.7,169.7" fill="#676767"/>
<polygon points="173.7,172.2 255.3,163.2 255.4,163.5 173.8,172.5" fill="#676767"/>
<polygon points="239.9,151.8 241.2,151.7 241.7,152.8 240.4,152.9" fill="#666"/>
<polygon points="242.9,151.6 244.2,151.4 244.7,152.5 243.4,152.6" fill="#666"/>
<polygon points="245.9,151.3 247.2,151.2 247.7,152.2 246.4,152.4" fill="#666"/>
<ellipse cx="201.4" cy="144.0" rx="20.6" ry="3.8" fill="#fff" stroke="#5a5a5a" stroke-width="0.6"/>
<ellipse cx="201.4" cy="144.0" rx="15" ry="2.3" fill="#777"/>
<ellipse cx="201.4" cy="143.3" rx="10" ry="1.5" fill="#fff"/>
<rect x="195.1" y="133.0" width="12.7" height="9.6" fill="#fff" stroke="#5a5a5a" stroke-width="0.5"/>
<path d="M256.5,142.8 C245.0,142.0 239.0,136.0 230.7,132.3" fill="none" stroke="#888" stroke-width="0.7"/>
<polygon points="143.7,110.3 148.3,113.6 149.6,146.5 144.1,140.5" fill="#a6a6a6" stroke="#5a5a5a" stroke-width="0.8" stroke-linejoin="round" />
<polygon points="143.7,110.3 158.3,107.3 164.9,111.9 148.3,113.6" fill="#c6c6c6" stroke="#5a5a5a" stroke-width="0.8" stroke-linejoin="round" />
<polygon points="148.3,113.6 164.9,111.9 164.9,144.3 149.6,146.5" fill="#c6c6c6" stroke="#5a5a5a" stroke-width="0.8" stroke-linejoin="round" />
<polygon points="150.3,116.1 162.4,114.4 162.4,137.7 150.8,139.3" fill="#b4b4b4" stroke="#5a5a5a" stroke-width="0.7" stroke-linejoin="round" />
<polygon points="167.0,76.5 233.0,75.6 234.7,129.9 169.8,136.5" fill="#ffffff" stroke="#5a5a5a" stroke-width="0.9" stroke-linejoin="round" />
<polygon points="171.0,79.9 230.5,78.7 231.2,125.5 173.3,130.2" fill="#bdbdbd" stroke="#5a5a5a" stroke-width="0.7" stroke-linejoin="round" />
<polygon points="240.5,105.3 245.2,108.8 245.9,142.1 241.2,136.9" fill="#a6a6a6" stroke="#5a5a5a" stroke-width="0.8" stroke-linejoin="round" />
<polygon points="240.5,105.3 254.1,101.8 261.9,107.7 245.2,108.8" fill="#c6c6c6" stroke="#5a5a5a" stroke-width="0.8" stroke-linejoin="round" />
<polygon points="245.2,108.8 261.9,107.7 261.9,139.3 245.9,142.1" fill="#c6c6c6" stroke="#5a5a5a" stroke-width="0.8" stroke-linejoin="round" />
<polygon points="247.6,111.2 260.0,109.5 260.0,131.8 248.3,133.4" fill="#b4b4b4" stroke="#5a5a5a" stroke-width="0.7" stroke-linejoin="round" />
<polygon points="265.4,106.5 268.6,107.7 269.3,141.6 265.8,138.1" fill="#c4c4c4" stroke="#5a5a5a" stroke-width="0.8" stroke-linejoin="round" />
<polygon points="265.4,106.5 270.5,103.0 278.7,105.3 268.6,107.7" fill="#f4f4f4" stroke="#5a5a5a" stroke-width="0.8" stroke-linejoin="round" />
<polygon points="268.6,107.7 278.7,105.3 278.7,140.5 269.3,141.6" fill="#fff" stroke="#5a5a5a" stroke-width="0.8" stroke-linejoin="round" />
<text transform="translate(273.9,123.5) rotate(-90)" text-anchor="middle" font-size="8.6" font-weight="bold" fill="#555" dy="3">USB</text>
<ellipse cx="264.7" cy="144.4" rx="9.4" ry="3.8" fill="#fff" stroke="#888" stroke-width="0.6" transform="rotate(-8 264.7 144.4)"/></g>
<g><polygon points="44.0,161.3 130.4,153.5 139.0,171.2 52.0,181.4" fill="#ffffff" stroke="#999" stroke-width="0.4" stroke-linejoin="round" />
<polygon points="47.5,163.7 129.4,156.0 135.6,169.0 53.3,178.3" fill="#5c5c5c"/>
<polygon points="53.7,163.1 55.0,163.0 56.1,165.8 54.8,165.9" fill="#fff"/>
<polygon points="68.4,161.7 69.7,161.6 70.8,164.3 69.5,164.4" fill="#fff"/>
<polygon points="82.2,160.4 83.5,160.3 84.7,163.0 83.4,163.1" fill="#fff"/>
<polygon points="96.9,159.0 99.5,158.8 100.7,161.4 98.1,161.7" fill="#fff"/>
<polygon points="102.3,163.0 117.9,161.4 119.1,164.0 103.5,165.6" fill="#e8e8e8"/>
<polygon points="108.7,165.1 113.9,164.5 114.9,166.7 109.7,167.3" fill="#5c5c5c"/>
<polygon points="98.7,158.9 100.0,158.8 106.1,172.3 104.8,172.5" fill="#bbb"/>
<polygon points="116.8,157.2 117.9,157.1 124.1,170.3 123.0,170.4" fill="#ccc"/>
<polygon points="49.0,167.1 130.4,159.1 130.5,159.3 49.1,167.4" fill="#676767"/>
<polygon points="50.1,169.9 131.6,161.6 131.7,161.8 50.2,170.2" fill="#676767"/>
<polygon points="51.2,172.7 132.8,164.0 132.9,164.3 51.4,173.0" fill="#676767"/>
<polygon points="52.4,175.5 134.0,166.5 134.1,166.8 52.5,175.8" fill="#676767"/>
<polygon points="118.6,155.1 119.9,155.0 120.4,156.1 119.1,156.2" fill="#666"/>
<polygon points="121.6,154.9 122.9,154.7 123.4,155.8 122.1,155.9" fill="#666"/>
<polygon points="124.6,154.6 125.9,154.5 126.4,155.5 125.1,155.7" fill="#666"/>
<ellipse cx="80.1" cy="147.3" rx="20.6" ry="3.8" fill="#fff" stroke="#5a5a5a" stroke-width="0.6"/>
<ellipse cx="80.1" cy="147.3" rx="15" ry="2.3" fill="#777"/>
<ellipse cx="80.1" cy="146.6" rx="10" ry="1.5" fill="#fff"/>
<rect x="73.8" y="136.3" width="12.7" height="9.6" fill="#fff" stroke="#5a5a5a" stroke-width="0.5"/>
<path d="M135.2,146.1 C123.7,145.3 117.7,139.3 109.4,135.6" fill="none" stroke="#888" stroke-width="0.7"/>
<polygon points="22.4,113.6 27.0,116.9 28.3,149.8 22.8,143.8" fill="#a6a6a6" stroke="#5a5a5a" stroke-width="0.8" stroke-linejoin="round" />
<polygon points="22.4,113.6 37.0,110.6 43.6,115.2 27.0,116.9" fill="#c6c6c6" stroke="#5a5a5a" stroke-width="0.8" stroke-linejoin="round" />
<polygon points="27.0,116.9 43.6,115.2 43.6,147.6 28.3,149.8" fill="#c6c6c6" stroke="#5a5a5a" stroke-width="0.8" stroke-linejoin="round" />
<polygon points="29.0,119.4 41.1,117.7 41.1,141.0 29.5,142.6" fill="#b4b4b4" stroke="#5a5a5a" stroke-width="0.7" stroke-linejoin="round" />
<polygon points="45.7,79.8 111.7,78.9 113.4,133.2 48.5,139.8" fill="#ffffff" stroke="#5a5a5a" stroke-width="0.9" stroke-linejoin="round" />
<polygon points="49.7,83.2 109.2,82.0 109.9,128.8 52.0,133.5" fill="#8fc5ec" stroke="#5a5a5a" stroke-width="0.7" stroke-linejoin="round" />
<polygon points="119.2,108.6 123.9,112.1 124.6,145.4 119.9,140.2" fill="#a6a6a6" stroke="#5a5a5a" stroke-width="0.8" stroke-linejoin="round" />
<polygon points="119.2,108.6 132.8,105.1 140.6,111.0 123.9,112.1" fill="#c6c6c6" stroke="#5a5a5a" stroke-width="0.8" stroke-linejoin="round" />
<polygon points="123.9,112.1 140.6,111.0 140.6,142.6 124.6,145.4" fill="#c6c6c6" stroke="#5a5a5a" stroke-width="0.8" stroke-linejoin="round" />
<polygon points="126.3,114.5 138.7,112.8 138.7,135.1 127.0,136.7" fill="#b4b4b4" stroke="#5a5a5a" stroke-width="0.7" stroke-linejoin="round" />
<polygon points="144.1,109.8 147.3,111.0 148.0,144.9 144.5,141.4" fill="#c4c4c4" stroke="#5a5a5a" stroke-width="0.8" stroke-linejoin="round" />
<polygon points="144.1,109.8 149.2,106.3 157.4,108.6 147.3,111.0" fill="#f4f4f4" stroke="#5a5a5a" stroke-width="0.8" stroke-linejoin="round" />
<polygon points="147.3,111.0 157.4,108.6 157.4,143.8 148.0,144.9" fill="#fff" stroke="#5a5a5a" stroke-width="0.8" stroke-linejoin="round" />
<text transform="translate(152.6,126.8) rotate(-90)" text-anchor="middle" font-size="8.6" font-weight="bold" fill="#555" dy="3">USB</text>
<ellipse cx="143.4" cy="147.7" rx="9.4" ry="3.8" fill="#fff" stroke="#888" stroke-width="0.6" transform="rotate(-8 143.4 147.7)"/></g>
<g><polygon points="314.0,165.8 400.4,158.0 409.0,175.7 322.0,185.9" fill="#ffffff" stroke="#999" stroke-width="0.4" stroke-linejoin="round" />
<polygon points="317.5,168.2 399.4,160.5 405.6,173.5 323.3,182.8" fill="#5c5c5c"/>
<polygon points="323.7,167.6 325.0,167.5 326.1,170.3 324.8,170.4" fill="#fff"/>
<polygon points="338.4,166.2 339.7,166.1 340.8,168.8 339.5,168.9" fill="#fff"/>
<polygon points="352.2,164.9 353.5,164.8 354.7,167.5 353.4,167.6" fill="#fff"/>
<polygon points="366.9,163.5 369.5,163.3 370.7,165.9 368.1,166.2" fill="#fff"/>
<polygon points="372.3,167.5 387.9,165.9 389.1,168.5 373.5,170.1" fill="#e8e8e8"/>
<polygon points="378.7,169.6 383.9,169.0 384.9,171.2 379.7,171.8" fill="#5c5c5c"/>
<polygon points="368.7,163.4 370.0,163.3 376.1,176.8 374.8,177.0" fill="#bbb"/>
<polygon points="386.8,161.7 387.9,161.6 394.1,174.8 393.0,174.9" fill="#ccc"/>
<polygon points="319.0,171.6 400.4,163.6 400.5,163.8 319.1,171.9" fill="#676767"/>
<polygon points="320.1,174.4 401.6,166.1 401.7,166.3 320.2,174.7" fill="#676767"/>
<polygon points="321.2,177.2 402.8,168.5 402.9,168.8 321.4,177.5" fill="#676767"/>
<polygon points="322.4,180.0 404.0,171.0 404.1,171.3 322.5,180.3" fill="#676767"/>
<polygon points="388.6,159.6 389.9,159.5 390.4,160.6 389.1,160.7" fill="#666"/>
<polygon points="391.6,159.4 392.9,159.2 393.4,160.3 392.1,160.4" fill="#666"/>
<polygon points="394.6,159.1 395.9,159.0 396.4,160.0 395.1,160.2" fill="#666"/>
<ellipse cx="350.1" cy="151.8" rx="20.6" ry="3.8" fill="#fff" stroke="#5a5a5a" stroke-width="0.6"/>
<ellipse cx="350.1" cy="151.8" rx="15" ry="2.3" fill="#777"/>
<ellipse cx="350.1" cy="151.1" rx="10" ry="1.5" fill="#fff"/>
<rect x="343.8" y="140.8" width="12.7" height="9.6" fill="#fff" stroke="#5a5a5a" stroke-width="0.5"/>
<path d="M405.2,150.6 C393.7,149.8 387.7,143.8 379.4,140.1" fill="none" stroke="#888" stroke-width="0.7"/>
<polygon points="292.4,118.1 297.0,121.4 298.3,154.3 292.8,148.3" fill="#74b3e2" stroke="#5a5a5a" stroke-width="0.8" stroke-linejoin="round" />
<polygon points="292.4,118.1 307.0,115.1 313.6,119.7 297.0,121.4" fill="#8fc5ec" stroke="#5a5a5a" stroke-width="0.8" stroke-linejoin="round" />
<polygon points="297.0,121.4 313.6,119.7 313.6,152.1 298.3,154.3" fill="#8fc5ec" stroke="#5a5a5a" stroke-width="0.8" stroke-linejoin="round" />
<polygon points="299.0,123.9 311.1,122.2 311.1,145.5 299.5,147.1" fill="#8cc2ea" stroke="#5a5a5a" stroke-width="0.7" stroke-linejoin="round" />
<polygon points="315.7,84.3 381.7,83.4 383.4,137.7 318.5,144.3" fill="#ffffff" stroke="#5a5a5a" stroke-width="0.9" stroke-linejoin="round" />
<polygon points="319.7,87.7 379.2,86.5 379.9,133.3 322.0,138.0" fill="#8fc5ec" stroke="#5a5a5a" stroke-width="0.7" stroke-linejoin="round" />
<polygon points="389.2,113.1 393.9,116.6 394.6,149.9 389.9,144.7" fill="#74b3e2" stroke="#5a5a5a" stroke-width="0.8" stroke-linejoin="round" />
<polygon points="389.2,113.1 402.8,109.6 410.6,115.5 393.9,116.6" fill="#8fc5ec" stroke="#5a5a5a" stroke-width="0.8" stroke-linejoin="round" />
<polygon points="393.9,116.6 410.6,115.5 410.6,147.1 394.6,149.9" fill="#8fc5ec" stroke="#5a5a5a" stroke-width="0.8" stroke-linejoin="round" />
<polygon points="396.3,119.0 408.7,117.3 408.7,139.6 397.0,141.2" fill="#8cc2ea" stroke="#5a5a5a" stroke-width="0.7" stroke-linejoin="round" />
<polygon points="414.1,114.3 417.3,115.5 418.0,149.4 414.5,145.9" fill="#c4c4c4" stroke="#5a5a5a" stroke-width="0.8" stroke-linejoin="round" />
<polygon points="414.1,114.3 419.2,110.8 427.4,113.1 417.3,115.5" fill="#f4f4f4" stroke="#5a5a5a" stroke-width="0.8" stroke-linejoin="round" />
<polygon points="417.3,115.5 427.4,113.1 427.4,148.3 418.0,149.4" fill="#fff" stroke="#5a5a5a" stroke-width="0.8" stroke-linejoin="round" />
<text transform="translate(422.6,131.3) rotate(-90)" text-anchor="middle" font-size="8.6" font-weight="bold" fill="#555" dy="3">USB</text>
<ellipse cx="413.4" cy="152.2" rx="9.4" ry="3.8" fill="#fff" stroke="#888" stroke-width="0.6" transform="rotate(-8 413.4 152.2)"/></g>
<g><polygon points="181.1,170.6 267.5,162.8 276.1,180.5 189.1,190.7" fill="#ffffff" stroke="#999" stroke-width="0.4" stroke-linejoin="round" />
<polygon points="184.6,173.0 266.5,165.3 272.7,178.3 190.4,187.6" fill="#5c5c5c"/>
<polygon points="190.8,172.4 192.1,172.3 193.2,175.1 191.9,175.2" fill="#fff"/>
<polygon points="205.5,171.0 206.8,170.9 207.9,173.6 206.6,173.7" fill="#fff"/>
<polygon points="219.3,169.7 220.6,169.6 221.8,172.3 220.5,172.4" fill="#fff"/>
<polygon points="234.0,168.3 236.6,168.1 237.8,170.7 235.2,171.0" fill="#fff"/>
<polygon points="239.4,172.3 255.0,170.7 256.2,173.3 240.6,174.9" fill="#e8e8e8"/>
<polygon points="245.8,174.3 251.0,173.8 252.0,176.0 246.8,176.6" fill="#5c5c5c"/>
<polygon points="235.8,168.2 237.1,168.1 243.2,181.6 241.9,181.8" fill="#bbb"/>
<polygon points="253.9,166.5 255.0,166.4 261.2,179.6 260.1,179.7" fill="#ccc"/>
<polygon points="186.1,176.4 267.5,168.4 267.6,168.6 186.2,176.7" fill="#676767"/>
<polygon points="187.2,179.2 268.7,170.9 268.8,171.1 187.3,179.5" fill="#676767"/>
<polygon points="188.3,182.0 269.9,173.3 270.0,173.6 188.5,182.3" fill="#676767"/>
<polygon points="189.5,184.8 271.1,175.8 271.2,176.1 189.6,185.1" fill="#676767"/>
<polygon points="255.7,164.4 257.0,164.3 257.5,165.4 256.2,165.5" fill="#666"/>
<polygon points="258.7,164.2 260.0,164.0 260.5,165.1 259.2,165.2" fill="#666"/>
<polygon points="261.7,163.9 263.0,163.8 263.5,164.8 262.2,165.0" fill="#666"/>
<ellipse cx="217.2" cy="156.6" rx="20.6" ry="3.8" fill="#fff" stroke="#5a5a5a" stroke-width="0.6"/>
<ellipse cx="217.2" cy="156.6" rx="15" ry="2.3" fill="#777"/>
<ellipse cx="217.2" cy="155.9" rx="10" ry="1.5" fill="#fff"/>
<rect x="210.9" y="145.6" width="12.7" height="9.6" fill="#fff" stroke="#5a5a5a" stroke-width="0.5"/>
<path d="M272.3,155.4 C260.8,154.6 254.8,148.6 246.5,144.9" fill="none" stroke="#888" stroke-width="0.7"/>
<polygon points="159.5,122.9 164.1,126.2 165.4,159.1 159.9,153.1" fill="#a6a6a6" stroke="#5a5a5a" stroke-width="0.8" stroke-linejoin="round" />
<polygon points="159.5,122.9 174.1,119.9 180.7,124.5 164.1,126.2" fill="#c6c6c6" stroke="#5a5a5a" stroke-width="0.8" stroke-linejoin="round" />
<polygon points="164.1,126.2 180.7,124.5 180.7,156.9 165.4,159.1" fill="#c6c6c6" stroke="#5a5a5a" stroke-width="0.8" stroke-linejoin="round" />
<polygon points="166.1,128.7 178.2,127.0 178.2,150.3 166.6,151.9" fill="#b4b4b4" stroke="#5a5a5a" stroke-width="0.7" stroke-linejoin="round" />
<polygon points="182.8,89.1 248.8,88.2 250.5,142.5 185.6,149.1" fill="#ffffff" stroke="#5a5a5a" stroke-width="0.9" stroke-linejoin="round" />
<polygon points="186.8,92.5 246.3,91.3 247.0,138.1 189.1,142.8" fill="#bdbdbd" stroke="#5a5a5a" stroke-width="0.7" stroke-linejoin="round" />
<polygon points="256.3,117.9 261.0,121.4 261.7,154.7 257.0,149.5" fill="#a6a6a6" stroke="#5a5a5a" stroke-width="0.8" stroke-linejoin="round" />
<polygon points="256.3,117.9 269.9,114.4 277.7,120.3 261.0,121.4" fill="#c6c6c6" stroke="#5a5a5a" stroke-width="0.8" stroke-linejoin="round" />
<polygon points="261.0,121.4 277.7,120.3 277.7,151.9 261.7,154.7" fill="#c6c6c6" stroke="#5a5a5a" stroke-width="0.8" stroke-linejoin="round" />
<polygon points="263.4,123.8 275.8,122.1 275.8,144.4 264.1,146.0" fill="#b4b4b4" stroke="#5a5a5a" stroke-width="0.7" stroke-linejoin="round" />
<polygon points="281.2,119.1 284.4,120.3 285.1,154.2 281.6,150.7" fill="#c4c4c4" stroke="#5a5a5a" stroke-width="0.8" stroke-linejoin="round" />
<polygon points="281.2,119.1 286.3,115.6 294.5,117.9 284.4,120.3" fill="#f4f4f4" stroke="#5a5a5a" stroke-width="0.8" stroke-linejoin="round" />
<polygon points="284.4,120.3 294.5,117.9 294.5,153.1 285.1,154.2" fill="#fff" stroke="#5a5a5a" stroke-width="0.8" stroke-linejoin="round" />
<text transform="translate(289.7,136.1) rotate(-90)" text-anchor="middle" font-size="8.6" font-weight="bold" fill="#555" dy="3">USB</text>
<ellipse cx="280.5" cy="157.0" rx="9.4" ry="3.8" fill="#fff" stroke="#888" stroke-width="0.6" transform="rotate(-8 280.5 157.0)"/></g>
<g><polygon points="61.5,171.8 147.9,164.0 156.5,181.7 69.5,191.9" fill="#ffffff" stroke="#999" stroke-width="0.4" stroke-linejoin="round" />
<polygon points="65.0,174.2 146.9,166.5 153.1,179.5 70.8,188.8" fill="#5c5c5c"/>
<polygon points="71.2,173.6 72.5,173.5 73.6,176.3 72.3,176.4" fill="#fff"/>
<polygon points="85.9,172.2 87.2,172.1 88.3,174.8 87.0,174.9" fill="#fff"/>
<polygon points="99.7,170.9 101.0,170.8 102.2,173.5 100.9,173.6" fill="#fff"/>
<polygon points="114.4,169.5 117.0,169.3 118.2,171.9 115.6,172.2" fill="#fff"/>
<polygon points="119.8,173.5 135.4,171.9 136.6,174.5 121.0,176.1" fill="#e8e8e8"/>
<polygon points="126.2,175.6 131.4,175.0 132.4,177.2 127.2,177.8" fill="#5c5c5c"/>
<polygon points="116.2,169.4 117.5,169.3 123.6,182.8 122.3,183.0" fill="#bbb"/>
<polygon points="134.3,167.7 135.4,167.6 141.6,180.8 140.5,180.9" fill="#ccc"/>
<polygon points="66.5,177.6 147.9,169.6 148.0,169.8 66.6,177.9" fill="#676767"/>
<polygon points="67.6,180.4 149.1,172.1 149.2,172.3 67.7,180.7" fill="#676767"/>
<polygon points="68.7,183.2 150.3,174.5 150.4,174.8 68.9,183.5" fill="#676767"/>
<polygon points="69.9,186.0 151.5,177.0 151.6,177.3 70.0,186.3" fill="#676767"/>
<polygon points="136.1,165.6 137.4,165.5 137.9,166.6 136.6,166.7" fill="#666"/>
<polygon points="139.1,165.4 140.4,165.2 140.9,166.3 139.6,166.4" fill="#666"/>
<polygon points="142.1,165.1 143.4,165.0 143.9,166.0 142.6,166.2" fill="#666"/>
<ellipse cx="97.6" cy="157.8" rx="20.6" ry="3.8" fill="#fff" stroke="#5a5a5a" stroke-width="0.6"/>
<ellipse cx="97.6" cy="157.8" rx="15" ry="2.3" fill="#777"/>
<ellipse cx="97.6" cy="157.1" rx="10" ry="1.5" fill="#fff"/>
<rect x="91.3" y="146.8" width="12.7" height="9.6" fill="#fff" stroke="#5a5a5a" stroke-width="0.5"/>
<path d="M152.7,156.6 C141.2,155.8 135.2,149.8 126.9,146.1" fill="none" stroke="#888" stroke-width="0.7"/>
<polygon points="39.9,124.1 44.5,127.4 45.8,160.3 40.3,154.3" fill="#a6a6a6" stroke="#5a5a5a" stroke-width="0.8" stroke-linejoin="round" />
<polygon points="39.9,124.1 54.5,121.1 61.1,125.7 44.5,127.4" fill="#c6c6c6" stroke="#5a5a5a" stroke-width="0.8" stroke-linejoin="round" />
<polygon points="44.5,127.4 61.1,125.7 61.1,158.1 45.8,160.3" fill="#c6c6c6" stroke="#5a5a5a" stroke-width="0.8" stroke-linejoin="round" />
<polygon points="46.5,129.9 58.6,128.2 58.6,151.5 47.0,153.1" fill="#b4b4b4" stroke="#5a5a5a" stroke-width="0.7" stroke-linejoin="round" />
<polygon points="63.2,90.3 129.2,89.4 130.9,143.7 66.0,150.3" fill="#ffffff" stroke="#5a5a5a" stroke-width="0.9" stroke-linejoin="round" />
<polygon points="67.2,93.7 126.7,92.5 127.4,139.3 69.5,144.0" fill="#8fc5ec" stroke="#5a5a5a" stroke-width="0.7" stroke-linejoin="round" />
<polygon points="136.7,119.1 141.4,122.6 142.1,155.9 137.4,150.7" fill="#a6a6a6" stroke="#5a5a5a" stroke-width="0.8" stroke-linejoin="round" />
<polygon points="136.7,119.1 150.3,115.6 158.1,121.5 141.4,122.6" fill="#c6c6c6" stroke="#5a5a5a" stroke-width="0.8" stroke-linejoin="round" />
<polygon points="141.4,122.6 158.1,121.5 158.1,153.1 142.1,155.9" fill="#c6c6c6" stroke="#5a5a5a" stroke-width="0.8" stroke-linejoin="round" />
<polygon points="143.8,125.0 156.2,123.3 156.2,145.6 144.5,147.2" fill="#b4b4b4" stroke="#5a5a5a" stroke-width="0.7" stroke-linejoin="round" />
<polygon points="161.6,120.3 164.8,121.5 165.5,155.4 162.0,151.9" fill="#c4c4c4" stroke="#5a5a5a" stroke-width="0.8" stroke-linejoin="round" />
<polygon points="161.6,120.3 166.7,116.8 174.9,119.1 164.8,121.5" fill="#f4f4f4" stroke="#5a5a5a" stroke-width="0.8" stroke-linejoin="round" />
<polygon points="164.8,121.5 174.9,119.1 174.9,154.3 165.5,155.4" fill="#fff" stroke="#5a5a5a" stroke-width="0.8" stroke-linejoin="round" />
<text transform="translate(170.1,137.3) rotate(-90)" text-anchor="middle" font-size="8.6" font-weight="bold" fill="#555" dy="3">USB</text>
<ellipse cx="160.9" cy="158.2" rx="9.4" ry="3.8" fill="#fff" stroke="#888" stroke-width="0.6" transform="rotate(-8 160.9 158.2)"/></g>
<g><polygon points="331.8,178.4 418.2,170.6 426.8,188.3 339.8,198.5" fill="#ffffff" stroke="#999" stroke-width="0.4" stroke-linejoin="round" />
<polygon points="335.3,180.8 417.2,173.1 423.4,186.1 341.1,195.4" fill="#5c5c5c"/>
<polygon points="341.5,180.2 342.8,180.1 343.9,182.9 342.6,183.0" fill="#fff"/>
<polygon points="356.2,178.8 357.5,178.7 358.6,181.4 357.3,181.5" fill="#fff"/>
<polygon points="370.0,177.5 371.3,177.4 372.5,180.1 371.2,180.2" fill="#fff"/>
<polygon points="384.7,176.1 387.3,175.9 388.5,178.5 385.9,178.8" fill="#fff"/>
<polygon points="390.1,180.1 405.7,178.5 406.9,181.1 391.3,182.7" fill="#e8e8e8"/>
<polygon points="396.5,182.2 401.7,181.6 402.7,183.8 397.5,184.4" fill="#5c5c5c"/>
<polygon points="386.5,176.0 387.8,175.9 393.9,189.4 392.6,189.6" fill="#bbb"/>
<polygon points="404.6,174.3 405.7,174.2 411.9,187.4 410.8,187.5" fill="#ccc"/>
<polygon points="336.8,184.2 418.2,176.2 418.3,176.4 336.9,184.5" fill="#676767"/>
<polygon points="337.9,187.0 419.4,178.7 419.5,178.9 338.0,187.3" fill="#676767"/>
<polygon points="339.0,189.8 420.6,181.1 420.7,181.4 339.2,190.1" fill="#676767"/>
<polygon points="340.2,192.6 421.8,183.6 421.9,183.9 340.3,192.9" fill="#676767"/>
<polygon points="406.4,172.2 407.7,172.1 408.2,173.2 406.9,173.3" fill="#666"/>
<polygon points="409.4,172.0 410.7,171.8 411.2,172.9 409.9,173.0" fill="#666"/>
<polygon points="412.4,171.7 413.7,171.6 414.2,172.6 412.9,172.8" fill="#666"/>
<ellipse cx="367.9" cy="164.4" rx="20.6" ry="3.8" fill="#fff" stroke="#5a5a5a" stroke-width="0.6"/>
<ellipse cx="367.9" cy="164.4" rx="15" ry="2.3" fill="#777"/>
<ellipse cx="367.9" cy="163.7" rx="10" ry="1.5" fill="#fff"/>
<rect x="361.6" y="153.4" width="12.7" height="9.6" fill="#fff" stroke="#5a5a5a" stroke-width="0.5"/>
<path d="M423.0,163.2 C411.5,162.4 405.5,156.4 397.2,152.7" fill="none" stroke="#888" stroke-width="0.7"/>
<polygon points="310.2,130.7 314.8,134.0 316.1,166.9 310.6,160.9" fill="#a6a6a6" stroke="#5a5a5a" stroke-width="0.8" stroke-linejoin="round" />
<polygon points="310.2,130.7 324.8,127.7 331.4,132.3 314.8,134.0" fill="#c6c6c6" stroke="#5a5a5a" stroke-width="0.8" stroke-linejoin="round" />
<polygon points="314.8,134.0 331.4,132.3 331.4,164.7 316.1,166.9" fill="#c6c6c6" stroke="#5a5a5a" stroke-width="0.8" stroke-linejoin="round" />
<polygon points="316.8,136.5 328.9,134.8 328.9,158.1 317.3,159.7" fill="#b4b4b4" stroke="#5a5a5a" stroke-width="0.7" stroke-linejoin="round" />
<polygon points="333.5,96.9 399.5,96.0 401.2,150.3 336.3,156.9" fill="#ffffff" stroke="#5a5a5a" stroke-width="0.9" stroke-linejoin="round" />
<polygon points="337.5,100.3 397.0,99.1 397.7,145.9 339.8,150.6" fill="#bdbdbd" stroke="#5a5a5a" stroke-width="0.7" stroke-linejoin="round" />
<polygon points="407.0,125.7 411.7,129.2 412.4,162.5 407.7,157.3" fill="#a6a6a6" stroke="#5a5a5a" stroke-width="0.8" stroke-linejoin="round" />
<polygon points="407.0,125.7 420.6,122.2 428.4,128.1 411.7,129.2" fill="#c6c6c6" stroke="#5a5a5a" stroke-width="0.8" stroke-linejoin="round" />
<polygon points="411.7,129.2 428.4,128.1 428.4,159.7 412.4,162.5" fill="#c6c6c6" stroke="#5a5a5a" stroke-width="0.8" stroke-linejoin="round" />
<polygon points="414.1,131.6 426.5,129.9 426.5,152.2 414.8,153.8" fill="#b4b4b4" stroke="#5a5a5a" stroke-width="0.7" stroke-linejoin="round" />
<polygon points="431.9,126.9 435.1,128.1 435.8,162.0 432.3,158.5" fill="#c4c4c4" stroke="#5a5a5a" stroke-width="0.8" stroke-linejoin="round" />
<polygon points="431.9,126.9 437.0,123.4 445.2,125.7 435.1,128.1" fill="#f4f4f4" stroke="#5a5a5a" stroke-width="0.8" stroke-linejoin="round" />
<polygon points="435.1,128.1 445.2,125.7 445.2,160.9 435.8,162.0" fill="#fff" stroke="#5a5a5a" stroke-width="0.8" stroke-linejoin="round" />
<text transform="translate(440.4,143.9) rotate(-90)" text-anchor="middle" font-size="8.6" font-weight="bold" fill="#555" dy="3">USB</text>
<ellipse cx="431.2" cy="164.8" rx="9.4" ry="3.8" fill="#fff" stroke="#888" stroke-width="0.6" transform="rotate(-8 431.2 164.8)"/></g>
<g><polygon points="198.0,181.8 284.4,174.0 293.0,191.7 206.0,201.9" fill="#ffffff" stroke="#999" stroke-width="0.4" stroke-linejoin="round" />
<polygon points="201.5,184.2 283.4,176.5 289.6,189.5 207.3,198.8" fill="#5c5c5c"/>
<polygon points="207.7,183.6 209.0,183.5 210.1,186.3 208.8,186.4" fill="#fff"/>
<polygon points="222.4,182.2 223.7,182.1 224.8,184.8 223.5,184.9" fill="#fff"/>
<polygon points="236.2,180.9 237.5,180.8 238.7,183.5 237.4,183.6" fill="#fff"/>
<polygon points="250.9,179.5 253.5,179.3 254.7,181.9 252.1,182.2" fill="#fff"/>
<polygon points="256.3,183.5 271.9,181.9 273.1,184.5 257.5,186.1" fill="#e8e8e8"/>
<polygon points="262.7,185.6 267.9,185.0 268.9,187.2 263.7,187.8" fill="#5c5c5c"/>
<polygon points="252.7,179.4 254.0,179.3 260.1,192.8 258.8,193.0" fill="#bbb"/>
<polygon points="270.8,177.7 271.9,177.6 278.1,190.8 277.0,190.9" fill="#ccc"/>
<polygon points="203.0,187.6 284.4,179.6 284.5,179.8 203.1,187.9" fill="#676767"/>
<polygon points="204.1,190.4 285.6,182.1 285.7,182.3 204.2,190.7" fill="#676767"/>
<polygon points="205.2,193.2 286.8,184.5 286.9,184.8 205.4,193.5" fill="#676767"/>
<polygon points="206.4,196.0 288.0,187.0 288.1,187.3 206.5,196.3" fill="#676767"/>
<polygon points="272.6,175.6 273.9,175.5 274.4,176.6 273.1,176.7" fill="#666"/>
<polygon points="275.6,175.4 276.9,175.2 277.4,176.3 276.1,176.4" fill="#666"/>
<polygon points="278.6,175.1 279.9,175.0 280.4,176.0 279.1,176.2" fill="#666"/>
<ellipse cx="234.1" cy="167.8" rx="20.6" ry="3.8" fill="#fff" stroke="#5a5a5a" stroke-width="0.6"/>
<ellipse cx="234.1" cy="167.8" rx="15" ry="2.3" fill="#777"/>
<ellipse cx="234.1" cy="167.1" rx="10" ry="1.5" fill="#fff"/>
<rect x="227.8" y="156.8" width="12.7" height="9.6" fill="#fff" stroke="#5a5a5a" stroke-width="0.5"/>
<path d="M289.2,166.6 C277.7,165.8 271.7,159.8 263.4,156.1" fill="none" stroke="#888" stroke-width="0.7"/>
<polygon points="176.4,134.1 181.0,137.4 182.3,170.3 176.8,164.3" fill="#a6a6a6" stroke="#5a5a5a" stroke-width="0.8" stroke-linejoin="round" />
<polygon points="176.4,134.1 191.0,131.1 197.6,135.7 181.0,137.4" fill="#c6c6c6" stroke="#5a5a5a" stroke-width="0.8" stroke-linejoin="round" />
<polygon points="181.0,137.4 197.6,135.7 197.6,168.1 182.3,170.3" fill="#c6c6c6" stroke="#5a5a5a" stroke-width="0.8" stroke-linejoin="round" />
<polygon points="183.0,139.9 195.1,138.2 195.1,161.5 183.5,163.1" fill="#b4b4b4" stroke="#5a5a5a" stroke-width="0.7" stroke-linejoin="round" />
<polygon points="199.7,100.3 265.7,99.4 267.4,153.7 202.5,160.3" fill="#ffffff" stroke="#5a5a5a" stroke-width="0.9" stroke-linejoin="round" />
<polygon points="203.7,103.7 263.2,102.5 263.9,149.3 206.0,154.0" fill="#8fc5ec" stroke="#5a5a5a" stroke-width="0.7" stroke-linejoin="round" />
<polygon points="273.2,129.1 277.9,132.6 278.6,165.9 273.9,160.7" fill="#a6a6a6" stroke="#5a5a5a" stroke-width="0.8" stroke-linejoin="round" />
<polygon points="273.2,129.1 286.8,125.6 294.6,131.5 277.9,132.6" fill="#c6c6c6" stroke="#5a5a5a" stroke-width="0.8" stroke-linejoin="round" />
<polygon points="277.9,132.6 294.6,131.5 294.6,163.1 278.6,165.9" fill="#c6c6c6" stroke="#5a5a5a" stroke-width="0.8" stroke-linejoin="round" />
<polygon points="280.3,135.0 292.7,133.3 292.7,155.6 281.0,157.2" fill="#b4b4b4" stroke="#5a5a5a" stroke-width="0.7" stroke-linejoin="round" />
<polygon points="298.1,130.3 301.3,131.5 302.0,165.4 298.5,161.9" fill="#c4c4c4" stroke="#5a5a5a" stroke-width="0.8" stroke-linejoin="round" />
<polygon points="298.1,130.3 303.2,126.8 311.4,129.1 301.3,131.5" fill="#f4f4f4" stroke="#5a5a5a" stroke-width="0.8" stroke-linejoin="round" />
<polygon points="301.3,131.5 311.4,129.1 311.4,164.3 302.0,165.4" fill="#fff" stroke="#5a5a5a" stroke-width="0.8" stroke-linejoin="round" />
<text transform="translate(306.6,147.3) rotate(-90)" text-anchor="middle" font-size="8.6" font-weight="bold" fill="#555" dy="3">USB</text>
<ellipse cx="297.4" cy="168.2" rx="9.4" ry="3.8" fill="#fff" stroke="#888" stroke-width="0.6" transform="rotate(-8 297.4 168.2)"/></g>
<g><polygon points="77.2,183.5 163.6,175.7 172.2,193.4 85.2,203.6" fill="#ffffff" stroke="#999" stroke-width="0.4" stroke-linejoin="round" />
<polygon points="80.7,185.9 162.6,178.2 168.8,191.2 86.5,200.5" fill="#5c5c5c"/>
<polygon points="86.9,185.3 88.2,185.2 89.3,188.0 88.0,188.1" fill="#fff"/>
<polygon points="101.6,183.9 102.9,183.8 104.0,186.5 102.7,186.6" fill="#fff"/>
<polygon points="115.4,182.6 116.7,182.5 117.9,185.2 116.6,185.3" fill="#fff"/>
<polygon points="130.1,181.2 132.7,181.0 133.9,183.6 131.3,183.9" fill="#fff"/>
<polygon points="135.5,185.2 151.1,183.6 152.3,186.2 136.7,187.8" fill="#e8e8e8"/>
<polygon points="141.9,187.2 147.1,186.7 148.1,188.9 142.9,189.5" fill="#5c5c5c"/>
<polygon points="131.9,181.1 133.2,181.0 139.3,194.5 138.0,194.7" fill="#bbb"/>
<polygon points="150.0,179.4 151.1,179.3 157.3,192.5 156.2,192.6" fill="#ccc"/>
<polygon points="82.2,189.3 163.6,181.3 163.7,181.5 82.3,189.6" fill="#676767"/>
<polygon points="83.3,192.1 164.8,183.8 164.9,184.0 83.4,192.4" fill="#676767"/>
<polygon points="84.4,194.9 166.0,186.2 166.1,186.5 84.6,195.2" fill="#676767"/>
<polygon points="85.6,197.7 167.2,188.7 167.3,189.0 85.7,198.0" fill="#676767"/>
<polygon points="151.8,177.3 153.1,177.2 153.6,178.3 152.3,178.4" fill="#666"/>
<polygon points="154.8,177.1 156.1,176.9 156.6,178.0 155.3,178.1" fill="#666"/>
<polygon points="157.8,176.8 159.1,176.7 159.6,177.7 158.3,177.9" fill="#666"/>
<ellipse cx="113.3" cy="169.5" rx="20.6" ry="3.8" fill="#fff" stroke="#5a5a5a" stroke-width="0.6"/>
<ellipse cx="113.3" cy="169.5" rx="15" ry="2.3" fill="#777"/>
<ellipse cx="113.3" cy="168.8" rx="10" ry="1.5" fill="#fff"/>
<rect x="107.0" y="158.5" width="12.7" height="9.6" fill="#fff" stroke="#5a5a5a" stroke-width="0.5"/>
<path d="M168.4,168.3 C156.9,167.5 150.9,161.5 142.6,157.8" fill="none" stroke="#888" stroke-width="0.7"/>
<polygon points="55.6,135.8 60.2,139.1 61.5,172.0 56.0,166.0" fill="#a6a6a6" stroke="#5a5a5a" stroke-width="0.8" stroke-linejoin="round" />
<polygon points="55.6,135.8 70.2,132.8 76.8,137.4 60.2,139.1" fill="#c6c6c6" stroke="#5a5a5a" stroke-width="0.8" stroke-linejoin="round" />
<polygon points="60.2,139.1 76.8,137.4 76.8,169.8 61.5,172.0" fill="#c6c6c6" stroke="#5a5a5a" stroke-width="0.8" stroke-linejoin="round" />
<polygon points="62.2,141.6 74.3,139.9 74.3,163.2 62.7,164.8" fill="#b4b4b4" stroke="#5a5a5a" stroke-width="0.7" stroke-linejoin="round" />
<polygon points="78.9,102.0 144.9,101.1 146.6,155.4 81.7,162.0" fill="#ffffff" stroke="#5a5a5a" stroke-width="0.9" stroke-linejoin="round" />
<polygon points="82.9,105.4 142.4,104.2 143.1,151.0 85.2,155.7" fill="#8fc5ec" stroke="#5a5a5a" stroke-width="0.7" stroke-linejoin="round" />
<polygon points="152.4,130.8 157.1,134.3 157.8,167.6 153.1,162.4" fill="#a6a6a6" stroke="#5a5a5a" stroke-width="0.8" stroke-linejoin="round" />
<polygon points="152.4,130.8 166.0,127.3 173.8,133.2 157.1,134.3" fill="#c6c6c6" stroke="#5a5a5a" stroke-width="0.8" stroke-linejoin="round" />
<polygon points="157.1,134.3 173.8,133.2 173.8,164.8 157.8,167.6" fill="#c6c6c6" stroke="#5a5a5a" stroke-width="0.8" stroke-linejoin="round" />
<polygon points="159.5,136.7 171.9,135.0 171.9,157.3 160.2,158.9" fill="#b4b4b4" stroke="#5a5a5a" stroke-width="0.7" stroke-linejoin="round" />
<polygon points="177.3,132.0 180.5,133.2 181.2,167.1 177.7,163.6" fill="#c4c4c4" stroke="#5a5a5a" stroke-width="0.8" stroke-linejoin="round" />
<polygon points="177.3,132.0 182.4,128.5 190.6,130.8 180.5,133.2" fill="#f4f4f4" stroke="#5a5a5a" stroke-width="0.8" stroke-linejoin="round" />
<polygon points="180.5,133.2 190.6,130.8 190.6,166.0 181.2,167.1" fill="#fff" stroke="#5a5a5a" stroke-width="0.8" stroke-linejoin="round" />
<text transform="translate(185.8,149.0) rotate(-90)" text-anchor="middle" font-size="8.6" font-weight="bold" fill="#555" dy="3">USB</text>
<ellipse cx="176.6" cy="169.9" rx="9.4" ry="3.8" fill="#fff" stroke="#888" stroke-width="0.6" transform="rotate(-8 176.6 169.9)"/></g>
<g><polygon points="213.8,193.0 300.2,185.2 308.8,202.9 221.8,213.1" fill="#ffffff" stroke="#999" stroke-width="0.4" stroke-linejoin="round" />
<polygon points="217.3,195.4 299.2,187.7 305.4,200.7 223.1,210.0" fill="#5c5c5c"/>
<polygon points="223.5,194.8 224.8,194.7 225.9,197.5 224.6,197.6" fill="#fff"/>
<polygon points="238.2,193.4 239.5,193.3 240.6,196.0 239.3,196.1" fill="#fff"/>
<polygon points="252.0,192.1 253.3,192.0 254.5,194.7 253.2,194.8" fill="#fff"/>
<polygon points="266.7,190.7 269.3,190.5 270.5,193.1 267.9,193.4" fill="#fff"/>
<polygon points="272.1,194.7 287.7,193.1 288.9,195.7 273.3,197.3" fill="#e8e8e8"/>
<polygon points="278.5,196.8 283.7,196.2 284.7,198.4 279.5,199.0" fill="#5c5c5c"/>
<polygon points="268.5,190.6 269.8,190.5 275.9,204.0 274.6,204.2" fill="#bbb"/>
<polygon points="286.6,188.9 287.7,188.8 293.9,202.0 292.8,202.1" fill="#ccc"/>
<polygon points="218.8,198.8 300.2,190.8 300.3,191.0 218.9,199.1" fill="#676767"/>
<polygon points="219.9,201.6 301.4,193.3 301.5,193.5 220.0,201.9" fill="#676767"/>
<polygon points="221.0,204.4 302.6,195.7 302.7,196.0 221.2,204.7" fill="#676767"/>
<polygon points="222.2,207.2 303.8,198.2 303.9,198.5 222.3,207.5" fill="#676767"/>
<polygon points="288.4,186.8 289.7,186.7 290.2,187.8 288.9,187.9" fill="#666"/>
<polygon points="291.4,186.6 292.7,186.4 293.2,187.5 291.9,187.6" fill="#666"/>
<polygon points="294.4,186.3 295.7,186.2 296.2,187.2 294.9,187.4" fill="#666"/>
<ellipse cx="249.9" cy="179.0" rx="20.6" ry="3.8" fill="#fff" stroke="#5a5a5a" stroke-width="0.6"/>
<ellipse cx="249.9" cy="179.0" rx="15" ry="2.3" fill="#777"/>
<ellipse cx="249.9" cy="178.3" rx="10" ry="1.5" fill="#fff"/>
<rect x="243.6" y="168.0" width="12.7" height="9.6" fill="#fff" stroke="#5a5a5a" stroke-width="0.5"/>
<path d="M305.0,177.8 C293.5,177.0 287.5,171.0 279.2,167.3" fill="none" stroke="#888" stroke-width="0.7"/>
<polygon points="192.2,145.3 196.8,148.6 198.1,181.5 192.6,175.5" fill="#a6a6a6" stroke="#5a5a5a" stroke-width="0.8" stroke-linejoin="round" />
<polygon points="192.2,145.3 206.8,142.3 213.4,146.9 196.8,148.6" fill="#c6c6c6" stroke="#5a5a5a" stroke-width="0.8" stroke-linejoin="round" />
<polygon points="196.8,148.6 213.4,146.9 213.4,179.3 198.1,181.5" fill="#c6c6c6" stroke="#5a5a5a" stroke-width="0.8" stroke-linejoin="round" />
<polygon points="198.8,151.1 210.9,149.4 210.9,172.7 199.3,174.3" fill="#b4b4b4" stroke="#5a5a5a" stroke-width="0.7" stroke-linejoin="round" />
<polygon points="215.5,111.5 281.5,110.6 283.2,164.9 218.3,171.5" fill="#ffffff" stroke="#5a5a5a" stroke-width="0.9" stroke-linejoin="round" />
<polygon points="219.5,114.9 279.0,113.7 279.7,160.5 221.8,165.2" fill="#8fc5ec" stroke="#5a5a5a" stroke-width="0.7" stroke-linejoin="round" />
<polygon points="289.0,140.3 293.7,143.8 294.4,177.1 289.7,171.9" fill="#a6a6a6" stroke="#5a5a5a" stroke-width="0.8" stroke-linejoin="round" />
<polygon points="289.0,140.3 302.6,136.8 310.4,142.7 293.7,143.8" fill="#c6c6c6" stroke="#5a5a5a" stroke-width="0.8" stroke-linejoin="round" />
<polygon points="293.7,143.8 310.4,142.7 310.4,174.3 294.4,177.1" fill="#c6c6c6" stroke="#5a5a5a" stroke-width="0.8" stroke-linejoin="round" />
<polygon points="296.1,146.2 308.5,144.5 308.5,166.8 296.8,168.4" fill="#b4b4b4" stroke="#5a5a5a" stroke-width="0.7" stroke-linejoin="round" />
<polygon points="313.9,141.5 317.1,142.7 317.8,176.6 314.3,173.1" fill="#c4c4c4" stroke="#5a5a5a" stroke-width="0.8" stroke-linejoin="round" />
<polygon points="313.9,141.5 319.0,138.0 327.2,140.3 317.1,142.7" fill="#f4f4f4" stroke="#5a5a5a" stroke-width="0.8" stroke-linejoin="round" />
<polygon points="317.1,142.7 327.2,140.3 327.2,175.5 317.8,176.6" fill="#fff" stroke="#5a5a5a" stroke-width="0.8" stroke-linejoin="round" />
<text transform="translate(322.4,158.5) rotate(-90)" text-anchor="middle" font-size="8.6" font-weight="bold" fill="#555" dy="3">USB</text>
<ellipse cx="313.2" cy="179.4" rx="9.4" ry="3.8" fill="#fff" stroke="#888" stroke-width="0.6" transform="rotate(-8 313.2 179.4)"/></g>
<g><polygon points="95.3,196.0 181.7,188.2 190.3,205.9 103.3,216.1" fill="#ffffff" stroke="#999" stroke-width="0.4" stroke-linejoin="round" />
<polygon points="98.8,198.4 180.7,190.7 186.9,203.7 104.6,213.0" fill="#5c5c5c"/>
<polygon points="105.0,197.8 106.3,197.7 107.4,200.5 106.1,200.6" fill="#fff"/>
<polygon points="119.7,196.4 121.0,196.3 122.1,199.0 120.8,199.1" fill="#fff"/>
<polygon points="133.5,195.1 134.8,195.0 136.0,197.7 134.7,197.8" fill="#fff"/>
<polygon points="148.2,193.7 150.8,193.5 152.0,196.1 149.4,196.4" fill="#fff"/>
<polygon points="153.6,197.7 169.2,196.1 170.4,198.7 154.8,200.3" fill="#e8e8e8"/>
<polygon points="160.0,199.8 165.2,199.2 166.2,201.4 161.0,202.0" fill="#5c5c5c"/>
<polygon points="150.0,193.6 151.3,193.5 157.4,207.0 156.1,207.2" fill="#bbb"/>
<polygon points="168.1,191.9 169.2,191.8 175.4,205.0 174.3,205.1" fill="#ccc"/>
<polygon points="100.3,201.8 181.7,193.8 181.8,194.0 100.4,202.1" fill="#676767"/>
<polygon points="101.4,204.6 182.9,196.3 183.0,196.5 101.5,204.9" fill="#676767"/>
<polygon points="102.5,207.4 184.1,198.7 184.2,199.0 102.7,207.7" fill="#676767"/>
<polygon points="103.7,210.2 185.3,201.2 185.4,201.5 103.8,210.5" fill="#676767"/>
<polygon points="169.9,189.8 171.2,189.7 171.7,190.8 170.4,190.9" fill="#666"/>
<polygon points="172.9,189.6 174.2,189.4 174.7,190.5 173.4,190.6" fill="#666"/>
<polygon points="175.9,189.3 177.2,189.2 177.7,190.2 176.4,190.4" fill="#666"/>
<ellipse cx="131.4" cy="182.0" rx="20.6" ry="3.8" fill="#fff" stroke="#5a5a5a" stroke-width="0.6"/>
<ellipse cx="131.4" cy="182.0" rx="15" ry="2.3" fill="#777"/>
<ellipse cx="131.4" cy="181.3" rx="10" ry="1.5" fill="#fff"/>
<rect x="125.1" y="171.0" width="12.7" height="9.6" fill="#fff" stroke="#5a5a5a" stroke-width="0.5"/>
<path d="M186.5,180.8 C175.0,180.0 169.0,174.0 160.7,170.3" fill="none" stroke="#888" stroke-width="0.7"/>
<polygon points="73.7,148.3 78.3,151.6 79.6,184.5 74.1,178.5" fill="#74b3e2" stroke="#5a5a5a" stroke-width="0.8" stroke-linejoin="round" />
<polygon points="73.7,148.3 88.3,145.3 94.9,149.9 78.3,151.6" fill="#8fc5ec" stroke="#5a5a5a" stroke-width="0.8" stroke-linejoin="round" />
<polygon points="78.3,151.6 94.9,149.9 94.9,182.3 79.6,184.5" fill="#8fc5ec" stroke="#5a5a5a" stroke-width="0.8" stroke-linejoin="round" />
<polygon points="80.3,154.1 92.4,152.4 92.4,175.7 80.8,177.3" fill="#8cc2ea" stroke="#5a5a5a" stroke-width="0.7" stroke-linejoin="round" />
<polygon points="97.0,114.5 163.0,113.6 164.7,167.9 99.8,174.5" fill="#ffffff" stroke="#5a5a5a" stroke-width="0.9" stroke-linejoin="round" />
<polygon points="101.0,117.9 160.5,116.7 161.2,163.5 103.3,168.2" fill="#8fc5ec" stroke="#5a5a5a" stroke-width="0.7" stroke-linejoin="round" />
<polygon points="170.5,143.3 175.2,146.8 175.9,180.1 171.2,174.9" fill="#74b3e2" stroke="#5a5a5a" stroke-width="0.8" stroke-linejoin="round" />
<polygon points="170.5,143.3 184.1,139.8 191.9,145.7 175.2,146.8" fill="#8fc5ec" stroke="#5a5a5a" stroke-width="0.8" stroke-linejoin="round" />
<polygon points="175.2,146.8 191.9,145.7 191.9,177.3 175.9,180.1" fill="#8fc5ec" stroke="#5a5a5a" stroke-width="0.8" stroke-linejoin="round" />
<polygon points="177.6,149.2 190.0,147.5 190.0,169.8 178.3,171.4" fill="#8cc2ea" stroke="#5a5a5a" stroke-width="0.7" stroke-linejoin="round" />
<polygon points="195.4,144.5 198.6,145.7 199.3,179.6 195.8,176.1" fill="#c4c4c4" stroke="#5a5a5a" stroke-width="0.8" stroke-linejoin="round" />
<polygon points="195.4,144.5 200.5,141.0 208.7,143.3 198.6,145.7" fill="#f4f4f4" stroke="#5a5a5a" stroke-width="0.8" stroke-linejoin="round" />
<polygon points="198.6,145.7 208.7,143.3 208.7,178.5 199.3,179.6" fill="#fff" stroke="#5a5a5a" stroke-width="0.8" stroke-linejoin="round" />
<text transform="translate(203.9,161.5) rotate(-90)" text-anchor="middle" font-size="8.6" font-weight="bold" fill="#555" dy="3">USB</text>
<ellipse cx="194.7" cy="182.4" rx="9.4" ry="3.8" fill="#fff" stroke="#888" stroke-width="0.6" transform="rotate(-8 194.7 182.4)"/></g>
<g><polygon points="232.1,205.7 318.5,197.9 327.1,215.6 240.1,225.8" fill="#ffffff" stroke="#999" stroke-width="0.4" stroke-linejoin="round" />
<polygon points="235.6,208.1 317.5,200.4 323.7,213.4 241.4,222.7" fill="#5c5c5c"/>
<polygon points="241.8,207.5 243.1,207.4 244.2,210.2 242.9,210.3" fill="#fff"/>
<polygon points="256.5,206.1 257.8,206.0 258.9,208.7 257.6,208.8" fill="#fff"/>
<polygon points="270.3,204.8 271.6,204.7 272.8,207.4 271.5,207.5" fill="#fff"/>
<polygon points="285.0,203.4 287.6,203.2 288.8,205.8 286.2,206.1" fill="#fff"/>
<polygon points="290.4,207.4 306.0,205.8 307.2,208.4 291.6,210.0" fill="#e8e8e8"/>
<polygon points="296.8,209.4 302.0,208.9 303.0,211.1 297.8,211.7" fill="#5c5c5c"/>
<polygon points="286.8,203.3 288.1,203.2 294.2,216.7 292.9,216.9" fill="#bbb"/>
<polygon points="304.9,201.6 306.0,201.5 312.2,214.7 311.1,214.8" fill="#ccc"/>
<polygon points="237.1,211.5 318.5,203.5 318.6,203.7 237.2,211.8" fill="#676767"/>
<polygon points="238.2,214.3 319.7,206.0 319.8,206.2 238.3,214.6" fill="#676767"/>
<polygon points="239.3,217.1 320.9,208.4 321.0,208.7 239.5,217.4" fill="#676767"/>
<polygon points="240.5,219.9 322.1,210.9 322.2,211.2 240.6,220.2" fill="#676767"/>
<polygon points="306.7,199.5 308.0,199.4 308.5,200.5 307.2,200.6" fill="#666"/>
<polygon points="309.7,199.3 311.0,199.1 311.5,200.2 310.2,200.3" fill="#666"/>
<polygon points="312.7,199.0 314.0,198.9 314.5,199.9 313.2,200.1" fill="#666"/>
<ellipse cx="268.2" cy="191.7" rx="20.6" ry="3.8" fill="#fff" stroke="#5a5a5a" stroke-width="0.6"/>
<ellipse cx="268.2" cy="191.7" rx="15" ry="2.3" fill="#777"/>
<ellipse cx="268.2" cy="191.0" rx="10" ry="1.5" fill="#fff"/>
<rect x="261.9" y="180.7" width="12.7" height="9.6" fill="#fff" stroke="#5a5a5a" stroke-width="0.5"/>
<path d="M323.3,190.5 C311.8,189.7 305.8,183.7 297.5,180.0" fill="none" stroke="#888" stroke-width="0.7"/>
<polygon points="210.5,158.0 215.1,161.3 216.4,194.2 210.9,188.2" fill="#a6a6a6" stroke="#5a5a5a" stroke-width="0.8" stroke-linejoin="round" />
<polygon points="210.5,158.0 225.1,155.0 231.7,159.6 215.1,161.3" fill="#c6c6c6" stroke="#5a5a5a" stroke-width="0.8" stroke-linejoin="round" />
<polygon points="215.1,161.3 231.7,159.6 231.7,192.0 216.4,194.2" fill="#c6c6c6" stroke="#5a5a5a" stroke-width="0.8" stroke-linejoin="round" />
<polygon points="217.1,163.8 229.2,162.1 229.2,185.4 217.6,187.0" fill="#b4b4b4" stroke="#5a5a5a" stroke-width="0.7" stroke-linejoin="round" />
<polygon points="233.8,124.2 299.8,123.3 301.5,177.6 236.6,184.2" fill="#ffffff" stroke="#5a5a5a" stroke-width="0.9" stroke-linejoin="round" />
<polygon points="237.8,127.6 297.3,126.4 298.0,173.2 240.1,177.9" fill="#8fc5ec" stroke="#5a5a5a" stroke-width="0.7" stroke-linejoin="round" />
<polygon points="307.3,153.0 312.0,156.5 312.7,189.8 308.0,184.6" fill="#a6a6a6" stroke="#5a5a5a" stroke-width="0.8" stroke-linejoin="round" />
<polygon points="307.3,153.0 320.9,149.5 328.7,155.4 312.0,156.5" fill="#c6c6c6" stroke="#5a5a5a" stroke-width="0.8" stroke-linejoin="round" />
<polygon points="312.0,156.5 328.7,155.4 328.7,187.0 312.7,189.8" fill="#c6c6c6" stroke="#5a5a5a" stroke-width="0.8" stroke-linejoin="round" />
<polygon points="314.4,158.9 326.8,157.2 326.8,179.5 315.1,181.1" fill="#b4b4b4" stroke="#5a5a5a" stroke-width="0.7" stroke-linejoin="round" />
<polygon points="332.2,154.2 335.4,155.4 336.1,189.3 332.6,185.8" fill="#c4c4c4" stroke="#5a5a5a" stroke-width="0.8" stroke-linejoin="round" />
<polygon points="332.2,154.2 337.3,150.7 345.5,153.0 335.4,155.4" fill="#f4f4f4" stroke="#5a5a5a" stroke-width="0.8" stroke-linejoin="round" />
<polygon points="335.4,155.4 345.5,153.0 345.5,188.2 336.1,189.3" fill="#fff" stroke="#5a5a5a" stroke-width="0.8" stroke-linejoin="round" />
<text transform="translate(340.7,171.2) rotate(-90)" text-anchor="middle" font-size="8.6" font-weight="bold" fill="#555" dy="3">USB</text>
<ellipse cx="331.5" cy="192.1" rx="9.4" ry="3.8" fill="#fff" stroke="#888" stroke-width="0.6" transform="rotate(-8 331.5 192.1)"/></g>
<polygon points="637.2,100.8 695.2,93.8 704.0,108.0 644.4,115.2" fill="#e8e8e8" stroke="#777" stroke-width="0.5" stroke-linejoin="round" />
<polygon points="640.1,102.4 694.0,96.0 700.6,106.5 645.4,113.0" fill="#858585"/>
<line x1="675.7" y1="98.2" x2="681.8" y2="108.7" stroke="#e8e8e8" stroke-width="1"/>
<line x1="685.4" y1="97.0" x2="691.8" y2="107.5" stroke="#e8e8e8" stroke-width="1"/>
<line x1="641.7" y1="105.6" x2="696.0" y2="99.2" stroke="#999" stroke-width="0.4" stroke-dasharray="2.4 1"/>
<line x1="643.0" y1="108.2" x2="697.6" y2="101.8" stroke="#999" stroke-width="0.4" stroke-dasharray="2.4 1"/>
<line x1="644.3" y1="110.9" x2="699.3" y2="104.4" stroke="#999" stroke-width="0.4" stroke-dasharray="2.4 1"/>
<ellipse cx="670.4" cy="82.0" rx="15.2" ry="3.6" fill="#b8b8b8" stroke="#5a5a5a" stroke-width="0.6"/>
<ellipse cx="670.4" cy="81.4" rx="9" ry="1.7" fill="none" stroke="#5a5a5a" stroke-width="0.5"/>
<rect x="665.9" y="74.7" width="9.8" height="6.3" fill="#b8b8b8" stroke="#5a5a5a" stroke-width="0.5"/>
<path d="M705.0,90.4 C696.4,89.2 691.4,83.2 683.9,83.4 C687.4,86.2 689.4,89.2 689.3,94.5" fill="none" stroke="#999" stroke-width="0.7"/>
<polygon points="630.8,63.1 635.3,66.0 635.7,89.1 631.4,84.6" fill="#7fb8e6" stroke="#5a5a5a" stroke-width="0.6" stroke-linejoin="round" />
<polygon points="630.8,63.1 640.5,60.2 647.0,64.1 635.3,66.0" fill="#9fcdf0" stroke="#5a5a5a" stroke-width="0.6" stroke-linejoin="round" />
<polygon points="635.3,66.0 647.0,64.1 647.0,86.5 635.7,89.1" fill="#9fcdf0" stroke="#5a5a5a" stroke-width="0.6" stroke-linejoin="round" />
<polygon points="637.2,68.0 645.4,66.4 645.4,81.7 637.6,83.2" fill="#9fcdf0" stroke="#5a5a5a" stroke-width="0.6" stroke-linejoin="round" />
<polygon points="646.4,35.2 692.3,33.8 693.8,73.5 649.3,77.8" fill="#b2b2b2" stroke="#5a5a5a" stroke-width="0.8" stroke-linejoin="round" />
<polygon points="649.7,37.7 690.3,36.4 690.7,70.9 651.7,73.8" fill="#c9c9c9" stroke="#5a5a5a" stroke-width="0.6" stroke-linejoin="round" />
<polygon points="696.2,58.2 700.1,61.2 700.5,83.6 696.6,79.7" fill="#7fb8e6" stroke="#5a5a5a" stroke-width="0.6" stroke-linejoin="round" />
<polygon points="696.2,58.2 705.9,55.3 711.8,58.6 700.1,61.2" fill="#9fcdf0" stroke="#5a5a5a" stroke-width="0.6" stroke-linejoin="round" />
<polygon points="700.1,61.2 711.8,58.6 711.8,81.3 700.5,83.6" fill="#9fcdf0" stroke="#5a5a5a" stroke-width="0.6" stroke-linejoin="round" />
<polygon points="702.0,63.1 710.2,61.6 710.2,76.8 702.4,78.1" fill="#9fcdf0" stroke="#5a5a5a" stroke-width="0.6" stroke-linejoin="round" />
<polygon points="718.2,46.1 721.6,48.5 722.5,84.6 719.2,81.7" fill="#a8a8a8" stroke="#5a5a5a" stroke-width="0.6" stroke-linejoin="round" />
<polygon points="718.2,46.1 727.0,43.6 732.3,45.5 721.6,48.5" fill="#d4d4d4" stroke="#5a5a5a" stroke-width="0.6" stroke-linejoin="round" />
<polygon points="721.6,48.5 732.3,45.5 732.3,81.7 722.5,84.6" fill="#c2c2c2" stroke="#5a5a5a" stroke-width="0.6" stroke-linejoin="round" />
<text transform="translate(726.5,65.1) rotate(-94)" text-anchor="middle" font-size="9" font-weight="bold" fill="#d4d4d4" stroke="#3c3c3c" stroke-width="1.7" paint-order="stroke" textLength="18.5" lengthAdjust="spacingAndGlyphs" dy="3">USB</text>
<ellipse cx="711.8" cy="91.4" rx="7.4" ry="3.5" fill="#f4f4f4" stroke="#888" stroke-width="0.6" transform="rotate(12 711.8 91.4)"/>
<polygon points="642.0,210.4 700.0,203.4 708.8,217.6 649.2,224.8" fill="#a6d0f1" stroke="#777" stroke-width="0.5" stroke-linejoin="round" />
<polygon points="644.9,212.0 698.8,205.6 705.4,216.1 650.2,222.6" fill="#858585"/>
<line x1="680.5" y1="207.8" x2="686.6" y2="218.3" stroke="#a6d0f1" stroke-width="1"/>
<line x1="690.2" y1="206.6" x2="696.6" y2="217.1" stroke="#a6d0f1" stroke-width="1"/>
<line x1="646.5" y1="215.2" x2="700.8" y2="208.8" stroke="#999" stroke-width="0.4" stroke-dasharray="2.4 1"/>
<line x1="647.8" y1="217.8" x2="702.4" y2="211.4" stroke="#999" stroke-width="0.4" stroke-dasharray="2.4 1"/>
<line x1="649.1" y1="220.5" x2="704.1" y2="214.0" stroke="#999" stroke-width="0.4" stroke-dasharray="2.4 1"/>
<ellipse cx="675.2" cy="191.6" rx="15.2" ry="3.6" fill="#a6d0f1" stroke="#5a5a5a" stroke-width="0.6"/>
<ellipse cx="675.2" cy="191.0" rx="9" ry="1.7" fill="none" stroke="#5a5a5a" stroke-width="0.5"/>
<rect x="670.7" y="184.3" width="9.8" height="6.3" fill="#a6d0f1" stroke="#5a5a5a" stroke-width="0.5"/>
<path d="M709.8,200.0 C701.2,198.8 696.2,192.8 688.7,193.0 C692.2,195.8 694.2,198.8 694.1,204.1" fill="none" stroke="#999" stroke-width="0.7"/>
<polygon points="635.6,172.7 640.1,175.6 640.5,198.7 636.2,194.2" fill="#86bde8" stroke="#5a5a5a" stroke-width="0.6" stroke-linejoin="round" />
<polygon points="635.6,172.7 645.3,169.8 651.8,173.7 640.1,175.6" fill="#a6d0f1" stroke="#5a5a5a" stroke-width="0.6" stroke-linejoin="round" />
<polygon points="640.1,175.6 651.8,173.7 651.8,196.1 640.5,198.7" fill="#a6d0f1" stroke="#5a5a5a" stroke-width="0.6" stroke-linejoin="round" />
<polygon points="642.0,177.6 650.2,176.0 650.2,191.3 642.4,192.8" fill="#a6d0f1" stroke="#5a5a5a" stroke-width="0.6" stroke-linejoin="round" />
<polygon points="651.2,144.8 697.1,143.4 698.6,183.1 654.1,187.4" fill="#a6d0f1" stroke="#5a5a5a" stroke-width="0.8" stroke-linejoin="round" />
<polygon points="654.5,147.3 695.1,146.0 695.5,180.5 656.5,183.4" fill="#b9dbf5" stroke="#5a5a5a" stroke-width="0.6" stroke-linejoin="round" />
<polygon points="701.0,167.8 704.9,170.8 705.3,193.2 701.4,189.3" fill="#86bde8" stroke="#5a5a5a" stroke-width="0.6" stroke-linejoin="round" />
<polygon points="701.0,167.8 710.7,164.9 716.6,168.2 704.9,170.8" fill="#a6d0f1" stroke="#5a5a5a" stroke-width="0.6" stroke-linejoin="round" />
<polygon points="704.9,170.8 716.6,168.2 716.6,190.9 705.3,193.2" fill="#a6d0f1" stroke="#5a5a5a" stroke-width="0.6" stroke-linejoin="round" />
<polygon points="706.8,172.7 715.0,171.2 715.0,186.4 707.2,187.7" fill="#a6d0f1" stroke="#5a5a5a" stroke-width="0.6" stroke-linejoin="round" />
<polygon points="723.0,155.7 726.4,158.1 727.3,194.2 724.0,191.3" fill="#86bde8" stroke="#5a5a5a" stroke-width="0.6" stroke-linejoin="round" />
<polygon points="723.0,155.7 731.8,153.2 737.1,155.1 726.4,158.1" fill="#c0e0f7" stroke="#5a5a5a" stroke-width="0.6" stroke-linejoin="round" />
<polygon points="726.4,158.1 737.1,155.1 737.1,191.3 727.3,194.2" fill="#a6d0f1" stroke="#5a5a5a" stroke-width="0.6" stroke-linejoin="round" />
<text transform="translate(731.3,174.7) rotate(-94)" text-anchor="middle" font-size="9" font-weight="bold" fill="#c0e0f7" stroke="#3c3c3c" stroke-width="1.7" paint-order="stroke" textLength="18.5" lengthAdjust="spacingAndGlyphs" dy="3">USB</text>
<ellipse cx="716.6" cy="201.0" rx="7.4" ry="3.5" fill="#a6d0f1" stroke="#888" stroke-width="0.6" transform="rotate(12 716.6 201.0)"/>
<ellipse cx="672.9" cy="301.2" rx="15.2" ry="3.6" fill="#b8b8b8" stroke="#5a5a5a" stroke-width="0.6"/>
<ellipse cx="672.9" cy="300.6" rx="9" ry="1.7" fill="none" stroke="#5a5a5a" stroke-width="0.5"/>
<rect x="668.4" y="293.9" width="9.8" height="6.3" fill="#b8b8b8" stroke="#5a5a5a" stroke-width="0.5"/>
<polygon points="633.3,282.3 637.8,285.2 638.2,308.3 633.9,303.8" fill="#a8a8a8" stroke="#5a5a5a" stroke-width="0.6" stroke-linejoin="round" />
<polygon points="633.3,282.3 643.0,279.4 649.5,283.3 637.8,285.2" fill="#c2c2c2" stroke="#5a5a5a" stroke-width="0.6" stroke-linejoin="round" />
<polygon points="637.8,285.2 649.5,283.3 649.5,305.7 638.2,308.3" fill="#c2c2c2" stroke="#5a5a5a" stroke-width="0.6" stroke-linejoin="round" />
<polygon points="639.7,287.2 647.9,285.6 647.9,300.9 640.1,302.4" fill="#c2c2c2" stroke="#5a5a5a" stroke-width="0.6" stroke-linejoin="round" />
<polygon points="648.9,254.4 694.8,253.0 696.3,292.7 651.8,297.0" fill="#b2b2b2" stroke="#5a5a5a" stroke-width="0.8" stroke-linejoin="round" />
<polygon points="652.2,256.9 692.8,255.6 693.2,290.1 654.2,293.0" fill="#c9c9c9" stroke="#5a5a5a" stroke-width="0.6" stroke-linejoin="round" />
<polygon points="698.7,277.4 702.6,280.4 703.0,302.8 699.1,298.9" fill="#a8a8a8" stroke="#5a5a5a" stroke-width="0.6" stroke-linejoin="round" />
<polygon points="698.7,277.4 708.4,274.5 714.3,277.8 702.6,280.4" fill="#c2c2c2" stroke="#5a5a5a" stroke-width="0.6" stroke-linejoin="round" />
<polygon points="702.6,280.4 714.3,277.8 714.3,300.5 703.0,302.8" fill="#c2c2c2" stroke="#5a5a5a" stroke-width="0.6" stroke-linejoin="round" />
<polygon points="704.5,282.3 712.7,280.8 712.7,296.0 704.9,297.3" fill="#c2c2c2" stroke="#5a5a5a" stroke-width="0.6" stroke-linejoin="round" />
</svg>
</body></html>
